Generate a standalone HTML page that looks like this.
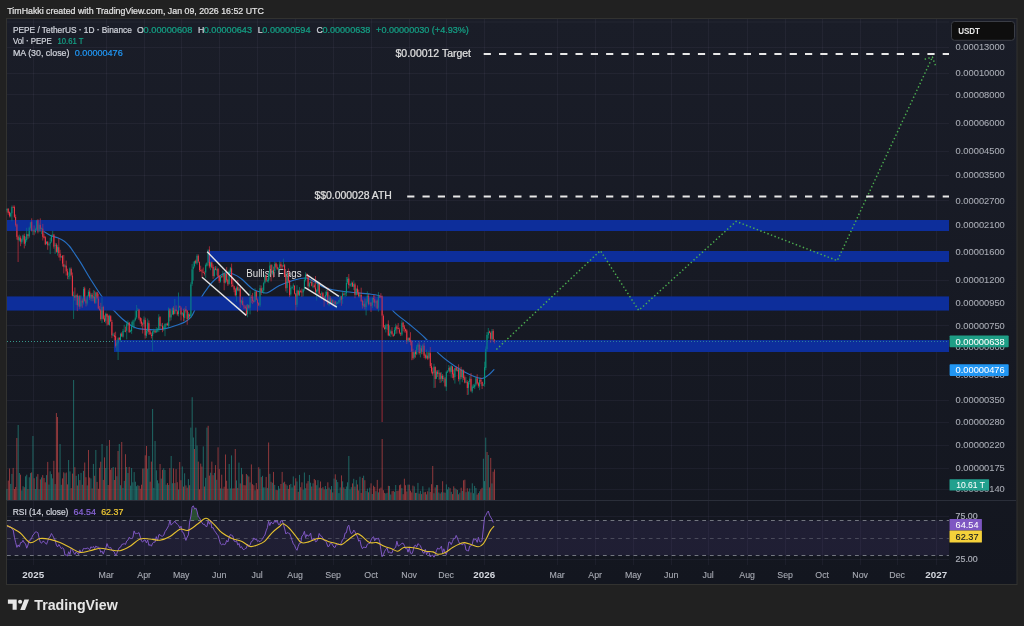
<!DOCTYPE html>
<html><head><meta charset="utf-8"><title>PEPE / TetherUS chart</title>
<style>
html,body{margin:0;padding:0;background:#212121;width:1024px;height:626px;overflow:hidden}
svg{position:absolute;left:0;top:0;display:block}
svg text{font-family:'Liberation Sans', Arial, sans-serif}
</style></head><body>
<svg width="1024" height="626" viewBox="0 0 1024 626" shape-rendering="auto">
<rect x="0" y="0" width="1024" height="626" fill="#212121"/>
<defs><linearGradient id="bg" x1="0" y1="0" x2="0" y2="1"><stop offset="0" stop-color="#1a1d28"/><stop offset="1" stop-color="#13161f"/></linearGradient></defs>
<rect x="6.5" y="18.5" width="1010.5" height="566" fill="url(#bg)" stroke="#323230" stroke-width="1"/>
<line x1="949" y1="19" x2="949" y2="19" stroke="none"/>
<line x1="7" y1="22.0" x2="949" y2="22.0" stroke="#c8bee6" stroke-opacity="0.055" stroke-width="1"/>
<line x1="7" y1="47.5" x2="949" y2="47.5" stroke="#c8bee6" stroke-opacity="0.055" stroke-width="1"/>
<line x1="7" y1="73.5" x2="949" y2="73.5" stroke="#c8bee6" stroke-opacity="0.055" stroke-width="1"/>
<line x1="7" y1="94.5" x2="949" y2="94.5" stroke="#c8bee6" stroke-opacity="0.055" stroke-width="1"/>
<line x1="7" y1="123.5" x2="949" y2="123.5" stroke="#c8bee6" stroke-opacity="0.055" stroke-width="1"/>
<line x1="7" y1="151.5" x2="949" y2="151.5" stroke="#c8bee6" stroke-opacity="0.055" stroke-width="1"/>
<line x1="7" y1="175.5" x2="949" y2="175.5" stroke="#c8bee6" stroke-opacity="0.055" stroke-width="1"/>
<line x1="7" y1="200.5" x2="949" y2="200.5" stroke="#c8bee6" stroke-opacity="0.055" stroke-width="1"/>
<line x1="7" y1="225.5" x2="949" y2="225.5" stroke="#c8bee6" stroke-opacity="0.055" stroke-width="1"/>
<line x1="7" y1="252.5" x2="949" y2="252.5" stroke="#c8bee6" stroke-opacity="0.055" stroke-width="1"/>
<line x1="7" y1="280.5" x2="949" y2="280.5" stroke="#c8bee6" stroke-opacity="0.055" stroke-width="1"/>
<line x1="7" y1="302.5" x2="949" y2="302.5" stroke="#c8bee6" stroke-opacity="0.055" stroke-width="1"/>
<line x1="7" y1="325.5" x2="949" y2="325.5" stroke="#c8bee6" stroke-opacity="0.055" stroke-width="1"/>
<line x1="7" y1="347.5" x2="949" y2="347.5" stroke="#c8bee6" stroke-opacity="0.055" stroke-width="1"/>
<line x1="7" y1="375.5" x2="949" y2="375.5" stroke="#c8bee6" stroke-opacity="0.055" stroke-width="1"/>
<line x1="7" y1="400.5" x2="949" y2="400.5" stroke="#c8bee6" stroke-opacity="0.055" stroke-width="1"/>
<line x1="7" y1="422.5" x2="949" y2="422.5" stroke="#c8bee6" stroke-opacity="0.055" stroke-width="1"/>
<line x1="7" y1="445.5" x2="949" y2="445.5" stroke="#c8bee6" stroke-opacity="0.055" stroke-width="1"/>
<line x1="7" y1="468.5" x2="949" y2="468.5" stroke="#c8bee6" stroke-opacity="0.055" stroke-width="1"/>
<line x1="7" y1="489.5" x2="949" y2="489.5" stroke="#c8bee6" stroke-opacity="0.055" stroke-width="1"/>
<line x1="7" y1="516.5" x2="949" y2="516.5" stroke="#c8bee6" stroke-opacity="0.055" stroke-width="1"/>
<line x1="7" y1="559.5" x2="949" y2="559.5" stroke="#c8bee6" stroke-opacity="0.055" stroke-width="1"/>
<line x1="33.5" y1="19" x2="33.5" y2="565" stroke="#c8bee6" stroke-opacity="0.055" stroke-width="1"/>
<line x1="106.5" y1="19" x2="106.5" y2="565" stroke="#c8bee6" stroke-opacity="0.055" stroke-width="1"/>
<line x1="144.5" y1="19" x2="144.5" y2="565" stroke="#c8bee6" stroke-opacity="0.055" stroke-width="1"/>
<line x1="181.5" y1="19" x2="181.5" y2="565" stroke="#c8bee6" stroke-opacity="0.055" stroke-width="1"/>
<line x1="219.5" y1="19" x2="219.5" y2="565" stroke="#c8bee6" stroke-opacity="0.055" stroke-width="1"/>
<line x1="257.5" y1="19" x2="257.5" y2="565" stroke="#c8bee6" stroke-opacity="0.055" stroke-width="1"/>
<line x1="295.5" y1="19" x2="295.5" y2="565" stroke="#c8bee6" stroke-opacity="0.055" stroke-width="1"/>
<line x1="333.5" y1="19" x2="333.5" y2="565" stroke="#c8bee6" stroke-opacity="0.055" stroke-width="1"/>
<line x1="371.5" y1="19" x2="371.5" y2="565" stroke="#c8bee6" stroke-opacity="0.055" stroke-width="1"/>
<line x1="409.5" y1="19" x2="409.5" y2="565" stroke="#c8bee6" stroke-opacity="0.055" stroke-width="1"/>
<line x1="446.5" y1="19" x2="446.5" y2="565" stroke="#c8bee6" stroke-opacity="0.055" stroke-width="1"/>
<line x1="484.5" y1="19" x2="484.5" y2="565" stroke="#c8bee6" stroke-opacity="0.055" stroke-width="1"/>
<line x1="557.5" y1="19" x2="557.5" y2="565" stroke="#c8bee6" stroke-opacity="0.055" stroke-width="1"/>
<line x1="595.5" y1="19" x2="595.5" y2="565" stroke="#c8bee6" stroke-opacity="0.055" stroke-width="1"/>
<line x1="633.5" y1="19" x2="633.5" y2="565" stroke="#c8bee6" stroke-opacity="0.055" stroke-width="1"/>
<line x1="671.5" y1="19" x2="671.5" y2="565" stroke="#c8bee6" stroke-opacity="0.055" stroke-width="1"/>
<line x1="708.5" y1="19" x2="708.5" y2="565" stroke="#c8bee6" stroke-opacity="0.055" stroke-width="1"/>
<line x1="747.5" y1="19" x2="747.5" y2="565" stroke="#c8bee6" stroke-opacity="0.055" stroke-width="1"/>
<line x1="785.5" y1="19" x2="785.5" y2="565" stroke="#c8bee6" stroke-opacity="0.055" stroke-width="1"/>
<line x1="822.5" y1="19" x2="822.5" y2="565" stroke="#c8bee6" stroke-opacity="0.055" stroke-width="1"/>
<line x1="860.5" y1="19" x2="860.5" y2="565" stroke="#c8bee6" stroke-opacity="0.055" stroke-width="1"/>
<line x1="897.5" y1="19" x2="897.5" y2="565" stroke="#c8bee6" stroke-opacity="0.055" stroke-width="1"/>
<line x1="936.5" y1="19" x2="936.5" y2="565" stroke="#c8bee6" stroke-opacity="0.055" stroke-width="1"/>
<line x1="7" y1="500.5" x2="1016" y2="500.5" stroke="#2a2e39" stroke-width="1"/>
<path fill="none" stroke="#2670c4" stroke-width="1.15" d="M43.60,231.40 C44.82,232.13 48.57,234.73 50.90,235.80 C53.23,236.87 55.37,236.90 57.60,237.80 C59.83,238.70 62.35,239.83 64.30,241.20 C66.25,242.57 67.93,244.47 69.30,246.00 C70.67,247.53 70.58,247.58 72.50,250.40 C74.42,253.22 77.87,258.22 80.80,262.90 C83.73,267.58 86.63,272.97 90.10,278.50 C93.57,284.03 97.62,290.73 101.60,296.10 C105.58,301.47 110.53,306.88 114.00,310.70 C117.47,314.52 119.62,316.58 122.40,319.00 C125.18,321.42 128.28,323.67 130.70,325.20 C133.12,326.73 134.45,327.50 136.90,328.20 C139.35,328.90 142.25,329.13 145.40,329.40 C148.55,329.67 152.33,329.97 155.80,329.80 C159.27,329.63 162.73,329.17 166.20,328.40 C169.67,327.63 173.48,326.25 176.60,325.20 C179.72,324.15 182.48,323.47 184.90,322.10 C187.32,320.73 189.37,319.18 191.10,317.00 C192.83,314.82 193.57,312.32 195.30,309.00 C197.03,305.68 199.42,300.63 201.50,297.10 C203.58,293.57 205.55,290.73 207.80,287.80 C210.05,284.87 212.00,282.00 215.00,279.50 C218.00,277.00 222.80,273.72 225.80,272.80 C228.80,271.88 230.47,273.05 233.00,274.00 C235.53,274.95 237.73,276.00 241.00,278.50 C244.27,281.00 249.43,286.78 252.60,289.00 C255.77,291.22 257.52,291.18 260.00,291.80 C262.48,292.42 264.33,293.70 267.50,292.70 C270.67,291.70 274.53,287.92 279.00,285.80 C283.47,283.68 289.83,281.30 294.30,280.00 C298.77,278.70 302.35,277.67 305.80,278.00 C309.25,278.33 311.80,280.38 315.00,282.00 C318.20,283.62 320.17,286.12 325.00,287.70 C329.83,289.28 336.33,290.42 344.00,291.50 C351.67,292.58 364.60,293.23 371.00,294.20 C377.40,295.17 378.57,294.37 382.40,297.30 C386.23,300.23 389.57,307.35 394.00,311.80 C398.43,316.25 403.90,319.72 409.00,324.00 C414.10,328.28 419.43,332.38 424.60,337.50 C429.77,342.62 434.93,349.92 440.00,354.70 C445.07,359.48 449.90,362.82 455.00,366.20 C460.10,369.58 466.10,372.95 470.60,375.00 C475.10,377.05 478.82,378.67 482.00,378.50 C485.18,378.33 487.65,375.53 489.70,374.00 C491.75,372.47 493.53,370.08 494.30,369.30"/>
<rect x="7" y="220" width="942" height="11" fill="#0d2e9c"/>
<rect x="208" y="251" width="741" height="11" fill="#0d2e9c"/>
<rect x="7" y="296.5" width="942" height="14" fill="#0d2e9c"/>
<rect x="114" y="340" width="835" height="12" fill="#0d2e9c"/>
<rect x="6.5" y="488.9" width="0.9" height="11.1" fill="rgba(38,166,154,0.62)"/>
<rect x="7.8" y="480.6" width="0.9" height="19.4" fill="rgba(239,83,80,0.62)"/>
<rect x="9" y="468.5" width="0.9" height="31.5" fill="rgba(239,83,80,0.62)"/>
<rect x="10.3" y="483.9" width="0.9" height="16.1" fill="rgba(38,166,154,0.62)"/>
<rect x="11.5" y="473.9" width="0.9" height="26.1" fill="rgba(38,166,154,0.62)"/>
<rect x="12.7" y="467.9" width="0.9" height="32.1" fill="rgba(239,83,80,0.62)"/>
<rect x="14" y="489" width="0.9" height="11" fill="rgba(239,83,80,0.62)"/>
<rect x="15.2" y="487" width="0.9" height="13" fill="rgba(239,83,80,0.62)"/>
<rect x="16.4" y="438" width="0.9" height="62" fill="rgba(239,83,80,0.62)"/>
<rect x="17.7" y="425" width="0.9" height="75" fill="rgba(38,166,154,0.62)"/>
<rect x="18.9" y="473" width="0.9" height="27" fill="rgba(38,166,154,0.62)"/>
<rect x="20.1" y="474.7" width="0.9" height="25.3" fill="rgba(239,83,80,0.62)"/>
<rect x="21.4" y="490.4" width="0.9" height="9.6" fill="rgba(38,166,154,0.62)"/>
<rect x="22.6" y="486.2" width="0.9" height="13.8" fill="rgba(38,166,154,0.62)"/>
<rect x="23.8" y="487.2" width="0.9" height="12.8" fill="rgba(239,83,80,0.62)"/>
<rect x="25.1" y="476.3" width="0.9" height="23.7" fill="rgba(38,166,154,0.62)"/>
<rect x="26.3" y="474.7" width="0.9" height="25.3" fill="rgba(38,166,154,0.62)"/>
<rect x="27.5" y="489.1" width="0.9" height="10.9" fill="rgba(239,83,80,0.62)"/>
<rect x="28.8" y="477.3" width="0.9" height="22.7" fill="rgba(38,166,154,0.62)"/>
<rect x="30" y="473.1" width="0.9" height="26.9" fill="rgba(38,166,154,0.62)"/>
<rect x="31.2" y="472.4" width="0.9" height="27.6" fill="rgba(239,83,80,0.62)"/>
<rect x="32.5" y="436" width="0.9" height="64" fill="rgba(38,166,154,0.62)"/>
<rect x="33.7" y="478.2" width="0.9" height="21.8" fill="rgba(239,83,80,0.62)"/>
<rect x="34.9" y="489" width="0.9" height="11" fill="rgba(38,166,154,0.62)"/>
<rect x="36.2" y="476.6" width="0.9" height="23.4" fill="rgba(38,166,154,0.62)"/>
<rect x="37.4" y="474.1" width="0.9" height="25.9" fill="rgba(239,83,80,0.62)"/>
<rect x="38.6" y="489.3" width="0.9" height="10.7" fill="rgba(38,166,154,0.62)"/>
<rect x="39.9" y="479.4" width="0.9" height="20.6" fill="rgba(239,83,80,0.62)"/>
<rect x="41.1" y="477.4" width="0.9" height="22.6" fill="rgba(38,166,154,0.62)"/>
<rect x="42.3" y="475.1" width="0.9" height="24.9" fill="rgba(239,83,80,0.62)"/>
<rect x="43.6" y="478" width="0.9" height="22" fill="rgba(239,83,80,0.62)"/>
<rect x="44.8" y="482.3" width="0.9" height="17.7" fill="rgba(239,83,80,0.62)"/>
<rect x="46" y="475.1" width="0.9" height="24.9" fill="rgba(38,166,154,0.62)"/>
<rect x="47.3" y="461.9" width="0.9" height="38.1" fill="rgba(239,83,80,0.62)"/>
<rect x="48.5" y="484.6" width="0.9" height="15.4" fill="rgba(38,166,154,0.62)"/>
<rect x="49.7" y="471.3" width="0.9" height="28.7" fill="rgba(38,166,154,0.62)"/>
<rect x="51" y="474.1" width="0.9" height="25.9" fill="rgba(38,166,154,0.62)"/>
<rect x="52.2" y="478.4" width="0.9" height="21.6" fill="rgba(38,166,154,0.62)"/>
<rect x="53.4" y="460.8" width="0.9" height="39.2" fill="rgba(239,83,80,0.62)"/>
<rect x="54.7" y="484.1" width="0.9" height="15.9" fill="rgba(38,166,154,0.62)"/>
<rect x="55.9" y="413" width="0.9" height="87" fill="rgba(239,83,80,0.62)"/>
<rect x="57.1" y="417" width="0.9" height="83" fill="rgba(239,83,80,0.62)"/>
<rect x="58.4" y="472.4" width="0.9" height="27.6" fill="rgba(239,83,80,0.62)"/>
<rect x="59.6" y="444" width="0.9" height="56" fill="rgba(38,166,154,0.62)"/>
<rect x="60.8" y="484.8" width="0.9" height="15.2" fill="rgba(38,166,154,0.62)"/>
<rect x="62.1" y="478.4" width="0.9" height="21.6" fill="rgba(239,83,80,0.62)"/>
<rect x="63.3" y="472.3" width="0.9" height="27.7" fill="rgba(239,83,80,0.62)"/>
<rect x="64.5" y="473.3" width="0.9" height="26.7" fill="rgba(38,166,154,0.62)"/>
<rect x="65.8" y="472.5" width="0.9" height="27.5" fill="rgba(239,83,80,0.62)"/>
<rect x="67" y="484.4" width="0.9" height="15.6" fill="rgba(239,83,80,0.62)"/>
<rect x="68.2" y="460" width="0.9" height="40" fill="rgba(38,166,154,0.62)"/>
<rect x="69.5" y="471.4" width="0.9" height="28.6" fill="rgba(38,166,154,0.62)"/>
<rect x="70.7" y="488.1" width="0.9" height="11.9" fill="rgba(239,83,80,0.62)"/>
<rect x="72" y="473.6" width="0.9" height="26.4" fill="rgba(239,83,80,0.62)"/>
<rect x="73.2" y="380" width="0.9" height="120" fill="rgba(38,166,154,0.62)"/>
<rect x="74.4" y="467.2" width="0.9" height="32.8" fill="rgba(239,83,80,0.62)"/>
<rect x="75.7" y="475.8" width="0.9" height="24.2" fill="rgba(38,166,154,0.62)"/>
<rect x="76.9" y="485.5" width="0.9" height="14.5" fill="rgba(239,83,80,0.62)"/>
<rect x="78.1" y="474.2" width="0.9" height="25.8" fill="rgba(38,166,154,0.62)"/>
<rect x="79.4" y="480.1" width="0.9" height="19.9" fill="rgba(239,83,80,0.62)"/>
<rect x="80.6" y="472.9" width="0.9" height="27.1" fill="rgba(38,166,154,0.62)"/>
<rect x="81.8" y="484.8" width="0.9" height="15.2" fill="rgba(239,83,80,0.62)"/>
<rect x="83.1" y="470.9" width="0.9" height="29.1" fill="rgba(38,166,154,0.62)"/>
<rect x="84.3" y="462.5" width="0.9" height="37.5" fill="rgba(239,83,80,0.62)"/>
<rect x="85.5" y="477.2" width="0.9" height="22.8" fill="rgba(239,83,80,0.62)"/>
<rect x="86.8" y="485.4" width="0.9" height="14.6" fill="rgba(38,166,154,0.62)"/>
<rect x="88" y="450" width="0.9" height="50" fill="rgba(239,83,80,0.62)"/>
<rect x="89.2" y="477.5" width="0.9" height="22.5" fill="rgba(239,83,80,0.62)"/>
<rect x="90.5" y="478.4" width="0.9" height="21.6" fill="rgba(38,166,154,0.62)"/>
<rect x="91.7" y="488.4" width="0.9" height="11.6" fill="rgba(239,83,80,0.62)"/>
<rect x="92.9" y="463.9" width="0.9" height="36.1" fill="rgba(38,166,154,0.62)"/>
<rect x="94.2" y="475.8" width="0.9" height="24.2" fill="rgba(239,83,80,0.62)"/>
<rect x="95.4" y="450" width="0.9" height="50" fill="rgba(38,166,154,0.62)"/>
<rect x="96.6" y="481.9" width="0.9" height="18.1" fill="rgba(239,83,80,0.62)"/>
<rect x="97.9" y="488.8" width="0.9" height="11.2" fill="rgba(239,83,80,0.62)"/>
<rect x="99.1" y="467.8" width="0.9" height="32.2" fill="rgba(239,83,80,0.62)"/>
<rect x="100.3" y="461.7" width="0.9" height="38.3" fill="rgba(239,83,80,0.62)"/>
<rect x="101.6" y="444" width="0.9" height="56" fill="rgba(38,166,154,0.62)"/>
<rect x="102.8" y="479.9" width="0.9" height="20.1" fill="rgba(239,83,80,0.62)"/>
<rect x="104" y="457.4" width="0.9" height="42.6" fill="rgba(239,83,80,0.62)"/>
<rect x="105.3" y="468" width="0.9" height="32" fill="rgba(38,166,154,0.62)"/>
<rect x="106.5" y="446" width="0.9" height="54" fill="rgba(38,166,154,0.62)"/>
<rect x="107.7" y="485" width="0.9" height="15" fill="rgba(239,83,80,0.62)"/>
<rect x="109" y="440" width="0.9" height="60" fill="rgba(239,83,80,0.62)"/>
<rect x="110.2" y="469.7" width="0.9" height="30.3" fill="rgba(239,83,80,0.62)"/>
<rect x="111.4" y="468" width="0.9" height="32" fill="rgba(239,83,80,0.62)"/>
<rect x="112.7" y="467" width="0.9" height="33" fill="rgba(38,166,154,0.62)"/>
<rect x="113.9" y="480" width="0.9" height="20" fill="rgba(239,83,80,0.62)"/>
<rect x="115.1" y="467.5" width="0.9" height="32.5" fill="rgba(239,83,80,0.62)"/>
<rect x="116.4" y="476.2" width="0.9" height="23.8" fill="rgba(38,166,154,0.62)"/>
<rect x="117.6" y="451" width="0.9" height="49" fill="rgba(239,83,80,0.62)"/>
<rect x="118.8" y="444" width="0.9" height="56" fill="rgba(38,166,154,0.62)"/>
<rect x="120.1" y="485.2" width="0.9" height="14.8" fill="rgba(38,166,154,0.62)"/>
<rect x="121.3" y="442" width="0.9" height="58" fill="rgba(239,83,80,0.62)"/>
<rect x="122.5" y="487.9" width="0.9" height="12.1" fill="rgba(38,166,154,0.62)"/>
<rect x="123.8" y="480.9" width="0.9" height="19.1" fill="rgba(38,166,154,0.62)"/>
<rect x="125" y="454.2" width="0.9" height="45.8" fill="rgba(239,83,80,0.62)"/>
<rect x="126.2" y="467" width="0.9" height="33" fill="rgba(38,166,154,0.62)"/>
<rect x="127.5" y="473" width="0.9" height="27" fill="rgba(38,166,154,0.62)"/>
<rect x="128.7" y="466.9" width="0.9" height="33.1" fill="rgba(239,83,80,0.62)"/>
<rect x="130" y="485.6" width="0.9" height="14.4" fill="rgba(38,166,154,0.62)"/>
<rect x="131.2" y="468" width="0.9" height="32" fill="rgba(38,166,154,0.62)"/>
<rect x="132.4" y="482.3" width="0.9" height="17.7" fill="rgba(38,166,154,0.62)"/>
<rect x="133.7" y="472.1" width="0.9" height="27.9" fill="rgba(38,166,154,0.62)"/>
<rect x="134.9" y="481.7" width="0.9" height="18.3" fill="rgba(38,166,154,0.62)"/>
<rect x="136.1" y="486.2" width="0.9" height="13.8" fill="rgba(38,166,154,0.62)"/>
<rect x="137.4" y="485.2" width="0.9" height="14.8" fill="rgba(38,166,154,0.62)"/>
<rect x="138.6" y="485.8" width="0.9" height="14.2" fill="rgba(239,83,80,0.62)"/>
<rect x="139.8" y="488.7" width="0.9" height="11.3" fill="rgba(239,83,80,0.62)"/>
<rect x="141.1" y="484.7" width="0.9" height="15.3" fill="rgba(239,83,80,0.62)"/>
<rect x="142.3" y="468.6" width="0.9" height="31.4" fill="rgba(239,83,80,0.62)"/>
<rect x="143.5" y="468.5" width="0.9" height="31.5" fill="rgba(38,166,154,0.62)"/>
<rect x="144.8" y="455.3" width="0.9" height="44.7" fill="rgba(239,83,80,0.62)"/>
<rect x="146" y="446" width="0.9" height="54" fill="rgba(239,83,80,0.62)"/>
<rect x="147.2" y="468.7" width="0.9" height="31.3" fill="rgba(38,166,154,0.62)"/>
<rect x="148.5" y="456" width="0.9" height="44" fill="rgba(38,166,154,0.62)"/>
<rect x="149.7" y="481.7" width="0.9" height="18.3" fill="rgba(239,83,80,0.62)"/>
<rect x="150.9" y="461.6" width="0.9" height="38.4" fill="rgba(239,83,80,0.62)"/>
<rect x="152.2" y="409" width="0.9" height="91" fill="rgba(38,166,154,0.62)"/>
<rect x="153.4" y="487.9" width="0.9" height="12.1" fill="rgba(38,166,154,0.62)"/>
<rect x="154.6" y="441" width="0.9" height="59" fill="rgba(38,166,154,0.62)"/>
<rect x="155.9" y="470.3" width="0.9" height="29.7" fill="rgba(38,166,154,0.62)"/>
<rect x="157.1" y="480.3" width="0.9" height="19.7" fill="rgba(38,166,154,0.62)"/>
<rect x="158.3" y="483.3" width="0.9" height="16.7" fill="rgba(38,166,154,0.62)"/>
<rect x="159.6" y="464" width="0.9" height="36" fill="rgba(239,83,80,0.62)"/>
<rect x="160.8" y="478.6" width="0.9" height="21.4" fill="rgba(38,166,154,0.62)"/>
<rect x="162" y="469.8" width="0.9" height="30.2" fill="rgba(239,83,80,0.62)"/>
<rect x="163.3" y="468.2" width="0.9" height="31.8" fill="rgba(38,166,154,0.62)"/>
<rect x="164.5" y="470" width="0.9" height="30" fill="rgba(38,166,154,0.62)"/>
<rect x="165.7" y="484.7" width="0.9" height="15.3" fill="rgba(38,166,154,0.62)"/>
<rect x="167" y="483.1" width="0.9" height="16.9" fill="rgba(239,83,80,0.62)"/>
<rect x="168.2" y="485" width="0.9" height="15" fill="rgba(38,166,154,0.62)"/>
<rect x="169.4" y="468.1" width="0.9" height="31.9" fill="rgba(239,83,80,0.62)"/>
<rect x="170.7" y="456" width="0.9" height="44" fill="rgba(38,166,154,0.62)"/>
<rect x="171.9" y="483.2" width="0.9" height="16.8" fill="rgba(38,166,154,0.62)"/>
<rect x="173.1" y="468.4" width="0.9" height="31.6" fill="rgba(239,83,80,0.62)"/>
<rect x="174.4" y="483.1" width="0.9" height="16.9" fill="rgba(38,166,154,0.62)"/>
<rect x="175.6" y="469.1" width="0.9" height="30.9" fill="rgba(239,83,80,0.62)"/>
<rect x="176.8" y="482.2" width="0.9" height="17.8" fill="rgba(239,83,80,0.62)"/>
<rect x="178.1" y="489.4" width="0.9" height="10.6" fill="rgba(38,166,154,0.62)"/>
<rect x="179.3" y="462" width="0.9" height="38" fill="rgba(239,83,80,0.62)"/>
<rect x="180.5" y="480.2" width="0.9" height="19.8" fill="rgba(239,83,80,0.62)"/>
<rect x="181.8" y="466.5" width="0.9" height="33.5" fill="rgba(38,166,154,0.62)"/>
<rect x="183" y="486.6" width="0.9" height="13.4" fill="rgba(239,83,80,0.62)"/>
<rect x="184.2" y="473.3" width="0.9" height="26.7" fill="rgba(38,166,154,0.62)"/>
<rect x="185.5" y="485.4" width="0.9" height="14.6" fill="rgba(239,83,80,0.62)"/>
<rect x="186.7" y="487.7" width="0.9" height="12.3" fill="rgba(239,83,80,0.62)"/>
<rect x="187.9" y="479.1" width="0.9" height="20.9" fill="rgba(38,166,154,0.62)"/>
<rect x="189.2" y="485.2" width="0.9" height="14.8" fill="rgba(239,83,80,0.62)"/>
<rect x="190.4" y="427.6" width="0.9" height="72.4" fill="rgba(38,166,154,0.62)"/>
<rect x="191.7" y="397.2" width="0.9" height="102.8" fill="rgba(38,166,154,0.62)"/>
<rect x="192.9" y="437.5" width="0.9" height="62.5" fill="rgba(38,166,154,0.62)"/>
<rect x="194.1" y="449" width="0.9" height="51" fill="rgba(239,83,80,0.62)"/>
<rect x="195.4" y="427.6" width="0.9" height="72.4" fill="rgba(38,166,154,0.62)"/>
<rect x="196.6" y="445.5" width="0.9" height="54.5" fill="rgba(38,166,154,0.62)"/>
<rect x="197.8" y="461.6" width="0.9" height="38.4" fill="rgba(239,83,80,0.62)"/>
<rect x="199.1" y="489.3" width="0.9" height="10.7" fill="rgba(239,83,80,0.62)"/>
<rect x="200.3" y="463.6" width="0.9" height="36.4" fill="rgba(239,83,80,0.62)"/>
<rect x="201.5" y="466.6" width="0.9" height="33.4" fill="rgba(239,83,80,0.62)"/>
<rect x="202.8" y="446.4" width="0.9" height="53.6" fill="rgba(38,166,154,0.62)"/>
<rect x="204" y="486.5" width="0.9" height="13.5" fill="rgba(239,83,80,0.62)"/>
<rect x="205.2" y="477.8" width="0.9" height="22.2" fill="rgba(38,166,154,0.62)"/>
<rect x="206.5" y="427.6" width="0.9" height="72.4" fill="rgba(38,166,154,0.62)"/>
<rect x="207.7" y="425.8" width="0.9" height="74.2" fill="rgba(239,83,80,0.62)"/>
<rect x="208.9" y="475.6" width="0.9" height="24.4" fill="rgba(239,83,80,0.62)"/>
<rect x="210.2" y="472.7" width="0.9" height="27.3" fill="rgba(38,166,154,0.62)"/>
<rect x="211.4" y="461.6" width="0.9" height="38.4" fill="rgba(239,83,80,0.62)"/>
<rect x="212.6" y="475.2" width="0.9" height="24.8" fill="rgba(239,83,80,0.62)"/>
<rect x="213.9" y="472.9" width="0.9" height="27.1" fill="rgba(38,166,154,0.62)"/>
<rect x="215.1" y="465.1" width="0.9" height="34.9" fill="rgba(239,83,80,0.62)"/>
<rect x="216.3" y="479.8" width="0.9" height="20.2" fill="rgba(38,166,154,0.62)"/>
<rect x="217.6" y="447.3" width="0.9" height="52.7" fill="rgba(239,83,80,0.62)"/>
<rect x="218.8" y="469.1" width="0.9" height="30.9" fill="rgba(239,83,80,0.62)"/>
<rect x="220" y="488.4" width="0.9" height="11.6" fill="rgba(38,166,154,0.62)"/>
<rect x="221.3" y="474.7" width="0.9" height="25.3" fill="rgba(239,83,80,0.62)"/>
<rect x="222.5" y="488.6" width="0.9" height="11.4" fill="rgba(38,166,154,0.62)"/>
<rect x="223.7" y="486.7" width="0.9" height="13.3" fill="rgba(239,83,80,0.62)"/>
<rect x="225" y="454.5" width="0.9" height="45.5" fill="rgba(239,83,80,0.62)"/>
<rect x="226.2" y="480.7" width="0.9" height="19.3" fill="rgba(239,83,80,0.62)"/>
<rect x="227.4" y="488.7" width="0.9" height="11.3" fill="rgba(239,83,80,0.62)"/>
<rect x="228.7" y="464" width="0.9" height="36" fill="rgba(38,166,154,0.62)"/>
<rect x="229.9" y="488.4" width="0.9" height="11.6" fill="rgba(38,166,154,0.62)"/>
<rect x="231.1" y="455.4" width="0.9" height="44.6" fill="rgba(38,166,154,0.62)"/>
<rect x="232.4" y="488.5" width="0.9" height="11.5" fill="rgba(239,83,80,0.62)"/>
<rect x="233.6" y="488.3" width="0.9" height="11.7" fill="rgba(239,83,80,0.62)"/>
<rect x="234.8" y="449" width="0.9" height="51" fill="rgba(239,83,80,0.62)"/>
<rect x="236.1" y="480.4" width="0.9" height="19.6" fill="rgba(38,166,154,0.62)"/>
<rect x="237.3" y="487.9" width="0.9" height="12.1" fill="rgba(239,83,80,0.62)"/>
<rect x="238.5" y="462.6" width="0.9" height="37.4" fill="rgba(38,166,154,0.62)"/>
<rect x="239.8" y="483.4" width="0.9" height="16.6" fill="rgba(239,83,80,0.62)"/>
<rect x="241" y="467.9" width="0.9" height="32.1" fill="rgba(38,166,154,0.62)"/>
<rect x="242.2" y="474.3" width="0.9" height="25.7" fill="rgba(239,83,80,0.62)"/>
<rect x="243.5" y="485.1" width="0.9" height="14.9" fill="rgba(239,83,80,0.62)"/>
<rect x="244.7" y="485.3" width="0.9" height="14.7" fill="rgba(239,83,80,0.62)"/>
<rect x="245.9" y="474" width="0.9" height="26" fill="rgba(239,83,80,0.62)"/>
<rect x="247.2" y="475.3" width="0.9" height="24.7" fill="rgba(38,166,154,0.62)"/>
<rect x="248.4" y="476.5" width="0.9" height="23.5" fill="rgba(239,83,80,0.62)"/>
<rect x="249.6" y="482.4" width="0.9" height="17.6" fill="rgba(38,166,154,0.62)"/>
<rect x="250.9" y="464.4" width="0.9" height="35.6" fill="rgba(239,83,80,0.62)"/>
<rect x="252.1" y="484.2" width="0.9" height="15.8" fill="rgba(239,83,80,0.62)"/>
<rect x="253.4" y="485.2" width="0.9" height="14.8" fill="rgba(239,83,80,0.62)"/>
<rect x="254.6" y="490.3" width="0.9" height="9.7" fill="rgba(38,166,154,0.62)"/>
<rect x="255.8" y="483" width="0.9" height="17" fill="rgba(239,83,80,0.62)"/>
<rect x="257.1" y="489.2" width="0.9" height="10.8" fill="rgba(239,83,80,0.62)"/>
<rect x="258.3" y="467.2" width="0.9" height="32.8" fill="rgba(239,83,80,0.62)"/>
<rect x="259.5" y="468.9" width="0.9" height="31.1" fill="rgba(38,166,154,0.62)"/>
<rect x="260.8" y="477.1" width="0.9" height="22.9" fill="rgba(239,83,80,0.62)"/>
<rect x="262" y="475.8" width="0.9" height="24.2" fill="rgba(38,166,154,0.62)"/>
<rect x="263.2" y="487.4" width="0.9" height="12.6" fill="rgba(38,166,154,0.62)"/>
<rect x="264.5" y="487.4" width="0.9" height="12.6" fill="rgba(38,166,154,0.62)"/>
<rect x="265.7" y="476.9" width="0.9" height="23.1" fill="rgba(239,83,80,0.62)"/>
<rect x="266.9" y="487.9" width="0.9" height="12.1" fill="rgba(38,166,154,0.62)"/>
<rect x="268.2" y="442.5" width="0.9" height="57.5" fill="rgba(239,83,80,0.62)"/>
<rect x="269.4" y="473.8" width="0.9" height="26.2" fill="rgba(38,166,154,0.62)"/>
<rect x="270.6" y="481.8" width="0.9" height="18.2" fill="rgba(239,83,80,0.62)"/>
<rect x="271.9" y="482.7" width="0.9" height="17.3" fill="rgba(38,166,154,0.62)"/>
<rect x="273.1" y="471.9" width="0.9" height="28.1" fill="rgba(239,83,80,0.62)"/>
<rect x="274.3" y="484.9" width="0.9" height="15.1" fill="rgba(38,166,154,0.62)"/>
<rect x="275.6" y="489.9" width="0.9" height="10.1" fill="rgba(239,83,80,0.62)"/>
<rect x="276.8" y="490.2" width="0.9" height="9.8" fill="rgba(239,83,80,0.62)"/>
<rect x="278" y="486" width="0.9" height="14" fill="rgba(38,166,154,0.62)"/>
<rect x="279.3" y="488.6" width="0.9" height="11.4" fill="rgba(38,166,154,0.62)"/>
<rect x="280.5" y="484" width="0.9" height="16" fill="rgba(239,83,80,0.62)"/>
<rect x="281.7" y="471.9" width="0.9" height="28.1" fill="rgba(239,83,80,0.62)"/>
<rect x="283" y="482.6" width="0.9" height="17.4" fill="rgba(38,166,154,0.62)"/>
<rect x="284.2" y="481.7" width="0.9" height="18.3" fill="rgba(239,83,80,0.62)"/>
<rect x="285.4" y="484.2" width="0.9" height="15.8" fill="rgba(239,83,80,0.62)"/>
<rect x="286.7" y="485.5" width="0.9" height="14.5" fill="rgba(38,166,154,0.62)"/>
<rect x="287.9" y="488.9" width="0.9" height="11.1" fill="rgba(239,83,80,0.62)"/>
<rect x="289.1" y="484.9" width="0.9" height="15.1" fill="rgba(239,83,80,0.62)"/>
<rect x="290.4" y="483.9" width="0.9" height="16.1" fill="rgba(38,166,154,0.62)"/>
<rect x="291.6" y="487.4" width="0.9" height="12.6" fill="rgba(38,166,154,0.62)"/>
<rect x="292.8" y="476.4" width="0.9" height="23.6" fill="rgba(38,166,154,0.62)"/>
<rect x="294.1" y="485.5" width="0.9" height="14.5" fill="rgba(239,83,80,0.62)"/>
<rect x="295.3" y="478.3" width="0.9" height="21.7" fill="rgba(239,83,80,0.62)"/>
<rect x="296.5" y="481.5" width="0.9" height="18.5" fill="rgba(38,166,154,0.62)"/>
<rect x="297.8" y="491.8" width="0.9" height="8.2" fill="rgba(239,83,80,0.62)"/>
<rect x="299" y="474.9" width="0.9" height="25.1" fill="rgba(38,166,154,0.62)"/>
<rect x="300.2" y="487.2" width="0.9" height="12.8" fill="rgba(239,83,80,0.62)"/>
<rect x="301.5" y="482.3" width="0.9" height="17.7" fill="rgba(239,83,80,0.62)"/>
<rect x="302.7" y="489.7" width="0.9" height="10.3" fill="rgba(38,166,154,0.62)"/>
<rect x="303.9" y="472.5" width="0.9" height="27.5" fill="rgba(38,166,154,0.62)"/>
<rect x="305.2" y="488.2" width="0.9" height="11.8" fill="rgba(38,166,154,0.62)"/>
<rect x="306.4" y="483.4" width="0.9" height="16.6" fill="rgba(239,83,80,0.62)"/>
<rect x="307.6" y="481.1" width="0.9" height="18.9" fill="rgba(239,83,80,0.62)"/>
<rect x="308.9" y="475" width="0.9" height="25" fill="rgba(38,166,154,0.62)"/>
<rect x="310.1" y="482.7" width="0.9" height="17.3" fill="rgba(38,166,154,0.62)"/>
<rect x="311.3" y="486.5" width="0.9" height="13.5" fill="rgba(239,83,80,0.62)"/>
<rect x="312.6" y="483.3" width="0.9" height="16.7" fill="rgba(38,166,154,0.62)"/>
<rect x="313.8" y="479" width="0.9" height="21" fill="rgba(239,83,80,0.62)"/>
<rect x="315.1" y="480.2" width="0.9" height="19.8" fill="rgba(239,83,80,0.62)"/>
<rect x="316.3" y="485.2" width="0.9" height="14.8" fill="rgba(38,166,154,0.62)"/>
<rect x="317.5" y="480.1" width="0.9" height="19.9" fill="rgba(38,166,154,0.62)"/>
<rect x="318.8" y="487.6" width="0.9" height="12.4" fill="rgba(239,83,80,0.62)"/>
<rect x="320" y="481.5" width="0.9" height="18.5" fill="rgba(239,83,80,0.62)"/>
<rect x="321.2" y="488.2" width="0.9" height="11.8" fill="rgba(38,166,154,0.62)"/>
<rect x="322.5" y="487.2" width="0.9" height="12.8" fill="rgba(239,83,80,0.62)"/>
<rect x="323.7" y="489.4" width="0.9" height="10.6" fill="rgba(239,83,80,0.62)"/>
<rect x="324.9" y="486" width="0.9" height="14" fill="rgba(38,166,154,0.62)"/>
<rect x="326.2" y="489.1" width="0.9" height="10.9" fill="rgba(38,166,154,0.62)"/>
<rect x="327.4" y="482.3" width="0.9" height="17.7" fill="rgba(239,83,80,0.62)"/>
<rect x="328.6" y="487.6" width="0.9" height="12.4" fill="rgba(38,166,154,0.62)"/>
<rect x="329.9" y="489.5" width="0.9" height="10.5" fill="rgba(239,83,80,0.62)"/>
<rect x="331.1" y="486" width="0.9" height="14" fill="rgba(38,166,154,0.62)"/>
<rect x="332.3" y="492.4" width="0.9" height="7.6" fill="rgba(239,83,80,0.62)"/>
<rect x="333.6" y="478.6" width="0.9" height="21.4" fill="rgba(38,166,154,0.62)"/>
<rect x="334.8" y="474.3" width="0.9" height="25.7" fill="rgba(239,83,80,0.62)"/>
<rect x="336" y="479.8" width="0.9" height="20.2" fill="rgba(38,166,154,0.62)"/>
<rect x="337.3" y="482.1" width="0.9" height="17.9" fill="rgba(38,166,154,0.62)"/>
<rect x="338.5" y="493.1" width="0.9" height="6.9" fill="rgba(38,166,154,0.62)"/>
<rect x="339.7" y="487.4" width="0.9" height="12.6" fill="rgba(38,166,154,0.62)"/>
<rect x="341" y="475.4" width="0.9" height="24.6" fill="rgba(239,83,80,0.62)"/>
<rect x="342.2" y="481.3" width="0.9" height="18.7" fill="rgba(38,166,154,0.62)"/>
<rect x="343.4" y="487.4" width="0.9" height="12.6" fill="rgba(239,83,80,0.62)"/>
<rect x="344.7" y="489" width="0.9" height="11" fill="rgba(38,166,154,0.62)"/>
<rect x="345.9" y="486.5" width="0.9" height="13.5" fill="rgba(38,166,154,0.62)"/>
<rect x="347.1" y="482.3" width="0.9" height="17.7" fill="rgba(38,166,154,0.62)"/>
<rect x="348.4" y="456" width="0.9" height="44" fill="rgba(38,166,154,0.62)"/>
<rect x="349.6" y="489.4" width="0.9" height="10.6" fill="rgba(38,166,154,0.62)"/>
<rect x="350.8" y="487.2" width="0.9" height="12.8" fill="rgba(38,166,154,0.62)"/>
<rect x="352.1" y="483.4" width="0.9" height="16.6" fill="rgba(239,83,80,0.62)"/>
<rect x="353.3" y="478.8" width="0.9" height="21.2" fill="rgba(38,166,154,0.62)"/>
<rect x="354.5" y="486.6" width="0.9" height="13.4" fill="rgba(239,83,80,0.62)"/>
<rect x="355.8" y="480.1" width="0.9" height="19.9" fill="rgba(38,166,154,0.62)"/>
<rect x="357" y="484.5" width="0.9" height="15.5" fill="rgba(239,83,80,0.62)"/>
<rect x="358.2" y="490.4" width="0.9" height="9.6" fill="rgba(239,83,80,0.62)"/>
<rect x="359.5" y="476.7" width="0.9" height="23.3" fill="rgba(38,166,154,0.62)"/>
<rect x="360.7" y="492.9" width="0.9" height="7.1" fill="rgba(239,83,80,0.62)"/>
<rect x="361.9" y="477.9" width="0.9" height="22.1" fill="rgba(239,83,80,0.62)"/>
<rect x="363.2" y="475.7" width="0.9" height="24.3" fill="rgba(38,166,154,0.62)"/>
<rect x="364.4" y="480.2" width="0.9" height="19.8" fill="rgba(239,83,80,0.62)"/>
<rect x="365.6" y="491" width="0.9" height="9" fill="rgba(38,166,154,0.62)"/>
<rect x="366.9" y="488.6" width="0.9" height="11.4" fill="rgba(38,166,154,0.62)"/>
<rect x="368.1" y="492.3" width="0.9" height="7.7" fill="rgba(239,83,80,0.62)"/>
<rect x="369.3" y="487.6" width="0.9" height="12.4" fill="rgba(38,166,154,0.62)"/>
<rect x="370.6" y="483.3" width="0.9" height="16.7" fill="rgba(239,83,80,0.62)"/>
<rect x="371.8" y="494" width="0.9" height="6" fill="rgba(38,166,154,0.62)"/>
<rect x="373" y="485.7" width="0.9" height="14.3" fill="rgba(239,83,80,0.62)"/>
<rect x="374.3" y="486.9" width="0.9" height="13.1" fill="rgba(239,83,80,0.62)"/>
<rect x="375.5" y="491.2" width="0.9" height="8.8" fill="rgba(38,166,154,0.62)"/>
<rect x="376.8" y="479.9" width="0.9" height="20.1" fill="rgba(239,83,80,0.62)"/>
<rect x="378" y="492.4" width="0.9" height="7.6" fill="rgba(38,166,154,0.62)"/>
<rect x="379.2" y="488.6" width="0.9" height="11.4" fill="rgba(239,83,80,0.62)"/>
<rect x="380.5" y="487.6" width="0.9" height="12.4" fill="rgba(239,83,80,0.62)"/>
<rect x="381.7" y="439" width="0.9" height="61" fill="rgba(239,83,80,0.62)"/>
<rect x="382.9" y="490.2" width="0.9" height="9.8" fill="rgba(239,83,80,0.62)"/>
<rect x="384.2" y="492.9" width="0.9" height="7.1" fill="rgba(239,83,80,0.62)"/>
<rect x="385.4" y="493.5" width="0.9" height="6.5" fill="rgba(38,166,154,0.62)"/>
<rect x="386.6" y="492.8" width="0.9" height="7.2" fill="rgba(38,166,154,0.62)"/>
<rect x="387.9" y="485.8" width="0.9" height="14.2" fill="rgba(239,83,80,0.62)"/>
<rect x="389.1" y="486" width="0.9" height="14" fill="rgba(38,166,154,0.62)"/>
<rect x="390.3" y="494.5" width="0.9" height="5.5" fill="rgba(38,166,154,0.62)"/>
<rect x="391.6" y="491.2" width="0.9" height="8.8" fill="rgba(239,83,80,0.62)"/>
<rect x="392.8" y="490.9" width="0.9" height="9.1" fill="rgba(239,83,80,0.62)"/>
<rect x="394" y="491.8" width="0.9" height="8.2" fill="rgba(38,166,154,0.62)"/>
<rect x="395.3" y="485" width="0.9" height="15" fill="rgba(38,166,154,0.62)"/>
<rect x="396.5" y="491" width="0.9" height="9" fill="rgba(239,83,80,0.62)"/>
<rect x="397.7" y="490.6" width="0.9" height="9.4" fill="rgba(239,83,80,0.62)"/>
<rect x="399" y="485.2" width="0.9" height="14.8" fill="rgba(239,83,80,0.62)"/>
<rect x="400.2" y="484.5" width="0.9" height="15.5" fill="rgba(239,83,80,0.62)"/>
<rect x="401.4" y="488.1" width="0.9" height="11.9" fill="rgba(38,166,154,0.62)"/>
<rect x="402.7" y="494.2" width="0.9" height="5.8" fill="rgba(239,83,80,0.62)"/>
<rect x="403.9" y="478.7" width="0.9" height="21.3" fill="rgba(239,83,80,0.62)"/>
<rect x="405.1" y="485.2" width="0.9" height="14.8" fill="rgba(239,83,80,0.62)"/>
<rect x="406.4" y="491.5" width="0.9" height="8.5" fill="rgba(239,83,80,0.62)"/>
<rect x="407.6" y="484.6" width="0.9" height="15.4" fill="rgba(38,166,154,0.62)"/>
<rect x="408.8" y="484.7" width="0.9" height="15.3" fill="rgba(239,83,80,0.62)"/>
<rect x="410.1" y="490.6" width="0.9" height="9.4" fill="rgba(239,83,80,0.62)"/>
<rect x="411.3" y="492.4" width="0.9" height="7.6" fill="rgba(239,83,80,0.62)"/>
<rect x="412.5" y="485.6" width="0.9" height="14.4" fill="rgba(239,83,80,0.62)"/>
<rect x="413.8" y="486.4" width="0.9" height="13.6" fill="rgba(38,166,154,0.62)"/>
<rect x="415" y="492.9" width="0.9" height="7.1" fill="rgba(239,83,80,0.62)"/>
<rect x="416.2" y="492.8" width="0.9" height="7.2" fill="rgba(38,166,154,0.62)"/>
<rect x="417.5" y="482.9" width="0.9" height="17.1" fill="rgba(38,166,154,0.62)"/>
<rect x="418.7" y="493.6" width="0.9" height="6.4" fill="rgba(239,83,80,0.62)"/>
<rect x="419.9" y="490.8" width="0.9" height="9.2" fill="rgba(38,166,154,0.62)"/>
<rect x="421.2" y="494.1" width="0.9" height="5.9" fill="rgba(239,83,80,0.62)"/>
<rect x="422.4" y="486.2" width="0.9" height="13.8" fill="rgba(38,166,154,0.62)"/>
<rect x="423.6" y="492.3" width="0.9" height="7.7" fill="rgba(239,83,80,0.62)"/>
<rect x="424.9" y="491.9" width="0.9" height="8.1" fill="rgba(239,83,80,0.62)"/>
<rect x="426.1" y="494.4" width="0.9" height="5.6" fill="rgba(38,166,154,0.62)"/>
<rect x="427.3" y="491.3" width="0.9" height="8.7" fill="rgba(239,83,80,0.62)"/>
<rect x="428.6" y="487.5" width="0.9" height="12.5" fill="rgba(38,166,154,0.62)"/>
<rect x="429.8" y="492" width="0.9" height="8" fill="rgba(239,83,80,0.62)"/>
<rect x="431" y="484.2" width="0.9" height="15.8" fill="rgba(239,83,80,0.62)"/>
<rect x="432.3" y="466" width="0.9" height="34" fill="rgba(239,83,80,0.62)"/>
<rect x="433.5" y="493.2" width="0.9" height="6.8" fill="rgba(38,166,154,0.62)"/>
<rect x="434.7" y="487.4" width="0.9" height="12.6" fill="rgba(239,83,80,0.62)"/>
<rect x="436" y="485" width="0.9" height="15" fill="rgba(38,166,154,0.62)"/>
<rect x="437.2" y="485.1" width="0.9" height="14.9" fill="rgba(239,83,80,0.62)"/>
<rect x="438.4" y="492.5" width="0.9" height="7.5" fill="rgba(38,166,154,0.62)"/>
<rect x="439.7" y="493.5" width="0.9" height="6.5" fill="rgba(239,83,80,0.62)"/>
<rect x="440.9" y="492.2" width="0.9" height="7.8" fill="rgba(38,166,154,0.62)"/>
<rect x="442.2" y="481.2" width="0.9" height="18.8" fill="rgba(239,83,80,0.62)"/>
<rect x="443.4" y="492.4" width="0.9" height="7.6" fill="rgba(38,166,154,0.62)"/>
<rect x="444.6" y="492.7" width="0.9" height="7.3" fill="rgba(239,83,80,0.62)"/>
<rect x="445.9" y="484.4" width="0.9" height="15.6" fill="rgba(38,166,154,0.62)"/>
<rect x="447.1" y="489.4" width="0.9" height="10.6" fill="rgba(38,166,154,0.62)"/>
<rect x="448.3" y="487.1" width="0.9" height="12.9" fill="rgba(38,166,154,0.62)"/>
<rect x="449.6" y="488.2" width="0.9" height="11.8" fill="rgba(239,83,80,0.62)"/>
<rect x="450.8" y="491.8" width="0.9" height="8.2" fill="rgba(38,166,154,0.62)"/>
<rect x="452" y="494.1" width="0.9" height="5.9" fill="rgba(239,83,80,0.62)"/>
<rect x="453.3" y="486.3" width="0.9" height="13.7" fill="rgba(239,83,80,0.62)"/>
<rect x="454.5" y="488.2" width="0.9" height="11.8" fill="rgba(38,166,154,0.62)"/>
<rect x="455.7" y="489.3" width="0.9" height="10.7" fill="rgba(239,83,80,0.62)"/>
<rect x="457" y="489.9" width="0.9" height="10.1" fill="rgba(38,166,154,0.62)"/>
<rect x="458.2" y="494.3" width="0.9" height="5.7" fill="rgba(239,83,80,0.62)"/>
<rect x="459.4" y="492.7" width="0.9" height="7.3" fill="rgba(38,166,154,0.62)"/>
<rect x="460.7" y="487.7" width="0.9" height="12.3" fill="rgba(239,83,80,0.62)"/>
<rect x="461.9" y="490.9" width="0.9" height="9.1" fill="rgba(38,166,154,0.62)"/>
<rect x="463.1" y="480.3" width="0.9" height="19.7" fill="rgba(239,83,80,0.62)"/>
<rect x="464.4" y="479.7" width="0.9" height="20.3" fill="rgba(239,83,80,0.62)"/>
<rect x="465.6" y="492.2" width="0.9" height="7.8" fill="rgba(38,166,154,0.62)"/>
<rect x="466.8" y="488.2" width="0.9" height="11.8" fill="rgba(239,83,80,0.62)"/>
<rect x="468.1" y="491.5" width="0.9" height="8.5" fill="rgba(38,166,154,0.62)"/>
<rect x="469.3" y="488.4" width="0.9" height="11.6" fill="rgba(38,166,154,0.62)"/>
<rect x="470.5" y="492.5" width="0.9" height="7.5" fill="rgba(239,83,80,0.62)"/>
<rect x="471.8" y="483.3" width="0.9" height="16.7" fill="rgba(38,166,154,0.62)"/>
<rect x="473" y="493.2" width="0.9" height="6.8" fill="rgba(38,166,154,0.62)"/>
<rect x="474.2" y="485.9" width="0.9" height="14.1" fill="rgba(38,166,154,0.62)"/>
<rect x="475.5" y="488" width="0.9" height="12" fill="rgba(38,166,154,0.62)"/>
<rect x="476.7" y="494.6" width="0.9" height="5.4" fill="rgba(239,83,80,0.62)"/>
<rect x="477.9" y="493.1" width="0.9" height="6.9" fill="rgba(239,83,80,0.62)"/>
<rect x="479.2" y="491.3" width="0.9" height="8.7" fill="rgba(38,166,154,0.62)"/>
<rect x="480.4" y="489.3" width="0.9" height="10.7" fill="rgba(239,83,80,0.62)"/>
<rect x="481.6" y="487.8" width="0.9" height="12.2" fill="rgba(239,83,80,0.62)"/>
<rect x="482.9" y="458.7" width="0.9" height="41.3" fill="rgba(38,166,154,0.62)"/>
<rect x="484.1" y="481.1" width="0.9" height="18.9" fill="rgba(38,166,154,0.62)"/>
<rect x="485.3" y="437.6" width="0.9" height="62.4" fill="rgba(38,166,154,0.62)"/>
<rect x="486.6" y="452" width="0.9" height="48" fill="rgba(239,83,80,0.62)"/>
<rect x="487.8" y="455" width="0.9" height="45" fill="rgba(38,166,154,0.62)"/>
<rect x="489" y="487.4" width="0.9" height="12.6" fill="rgba(239,83,80,0.62)"/>
<rect x="490.3" y="457.9" width="0.9" height="42.1" fill="rgba(239,83,80,0.62)"/>
<rect x="491.5" y="483.4" width="0.9" height="16.6" fill="rgba(38,166,154,0.62)"/>
<rect x="492.7" y="471.7" width="0.9" height="28.3" fill="rgba(239,83,80,0.62)"/>
<rect x="494" y="469.4" width="0.9" height="30.6" fill="rgba(239,83,80,0.62)"/>
<line x1="7" y1="341.5" x2="949" y2="341.5" stroke="#3fb5a3" stroke-opacity="0.8" stroke-width="1" stroke-dasharray="1 2"/>
<text x="246.2" y="277.1" font-size="10.6" fill="#e0e0e0" textLength="55.4" lengthAdjust="spacingAndGlyphs">Bullish Flags</text>
<line x1="7" y1="208.3" x2="7" y2="212.3" stroke="#089981" stroke-width="0.6"/>
<rect x="6.5" y="209" width="1" height="1.3" fill="#089981"/>
<line x1="8.2" y1="208.1" x2="8.2" y2="214.8" stroke="#f23645" stroke-width="0.6"/>
<rect x="7.7" y="208.8" width="1" height="4.1" fill="#f23645"/>
<line x1="9.5" y1="211.5" x2="9.5" y2="217.4" stroke="#f23645" stroke-width="0.6"/>
<rect x="9" y="212.2" width="1" height="3.6" fill="#f23645"/>
<line x1="10.7" y1="212.4" x2="10.7" y2="217.3" stroke="#089981" stroke-width="0.6"/>
<rect x="10.2" y="213.2" width="1" height="3.1" fill="#089981"/>
<line x1="11.9" y1="205.5" x2="11.9" y2="221.3" stroke="#089981" stroke-width="0.6"/>
<rect x="11.4" y="207" width="1" height="6.3" fill="#089981"/>
<line x1="13.2" y1="205.5" x2="13.2" y2="207.5" stroke="#f23645" stroke-width="0.6"/>
<rect x="12.7" y="207" width="1" height="0.8" fill="#f23645"/>
<line x1="14.4" y1="205.5" x2="14.4" y2="217.8" stroke="#f23645" stroke-width="0.6"/>
<rect x="13.9" y="207" width="1" height="9.9" fill="#f23645"/>
<line x1="15.6" y1="214.5" x2="15.6" y2="226.7" stroke="#f23645" stroke-width="0.6"/>
<rect x="15.1" y="217" width="1" height="8.2" fill="#f23645"/>
<line x1="16.9" y1="223.6" x2="16.9" y2="239.6" stroke="#f23645" stroke-width="0.6"/>
<rect x="16.4" y="224.5" width="1" height="12.3" fill="#f23645"/>
<line x1="18.1" y1="235.5" x2="18.1" y2="262" stroke="#f23645" stroke-width="0.6"/>
<rect x="17.6" y="236.7" width="1" height="3.2" fill="#f23645"/>
<line x1="19.3" y1="234.6" x2="19.3" y2="241.5" stroke="#089981" stroke-width="0.6"/>
<rect x="18.8" y="237.5" width="1" height="2.9" fill="#089981"/>
<line x1="20.6" y1="235.7" x2="20.6" y2="246.2" stroke="#f23645" stroke-width="0.6"/>
<rect x="20.1" y="237.7" width="1" height="3.9" fill="#f23645"/>
<line x1="21.8" y1="238.5" x2="21.8" y2="243.9" stroke="#089981" stroke-width="0.6"/>
<rect x="21.3" y="239.2" width="1" height="3.1" fill="#089981"/>
<line x1="23" y1="234.6" x2="23" y2="241.5" stroke="#089981" stroke-width="0.6"/>
<rect x="22.5" y="235.4" width="1" height="4.2" fill="#089981"/>
<line x1="24.3" y1="233.7" x2="24.3" y2="248.4" stroke="#f23645" stroke-width="0.6"/>
<rect x="23.8" y="235.9" width="1" height="7.9" fill="#f23645"/>
<line x1="25.5" y1="236.6" x2="25.5" y2="245.8" stroke="#089981" stroke-width="0.6"/>
<rect x="25" y="239.4" width="1" height="4" fill="#089981"/>
<line x1="26.7" y1="227.8" x2="26.7" y2="241.8" stroke="#089981" stroke-width="0.6"/>
<rect x="26.2" y="234.1" width="1" height="5.9" fill="#089981"/>
<line x1="28" y1="233.8" x2="28" y2="238.8" stroke="#f23645" stroke-width="0.6"/>
<rect x="27.5" y="234.4" width="1" height="1.5" fill="#f23645"/>
<line x1="29.2" y1="226.5" x2="29.2" y2="237.9" stroke="#089981" stroke-width="0.6"/>
<rect x="28.7" y="227.7" width="1" height="8.7" fill="#089981"/>
<line x1="30.4" y1="221.9" x2="30.4" y2="229.7" stroke="#089981" stroke-width="0.6"/>
<rect x="29.9" y="222.4" width="1" height="5.5" fill="#089981"/>
<line x1="31.7" y1="218.3" x2="31.7" y2="231.5" stroke="#f23645" stroke-width="0.6"/>
<rect x="31.2" y="221.7" width="1" height="9" fill="#f23645"/>
<line x1="32.9" y1="228.6" x2="32.9" y2="234.9" stroke="#089981" stroke-width="0.6"/>
<rect x="32.4" y="230.1" width="1" height="0.8" fill="#089981"/>
<line x1="34.1" y1="225.4" x2="34.1" y2="235.3" stroke="#f23645" stroke-width="0.6"/>
<rect x="33.6" y="230.2" width="1" height="1.2" fill="#f23645"/>
<line x1="35.4" y1="227.7" x2="35.4" y2="233.5" stroke="#089981" stroke-width="0.6"/>
<rect x="34.9" y="228.9" width="1" height="3.1" fill="#089981"/>
<line x1="36.6" y1="219.9" x2="36.6" y2="230.5" stroke="#089981" stroke-width="0.6"/>
<rect x="36.1" y="220.7" width="1" height="8.9" fill="#089981"/>
<line x1="37.9" y1="219.2" x2="37.9" y2="233.4" stroke="#f23645" stroke-width="0.6"/>
<rect x="37.4" y="220.2" width="1" height="11.3" fill="#f23645"/>
<line x1="39.1" y1="223.3" x2="39.1" y2="232.2" stroke="#089981" stroke-width="0.6"/>
<rect x="38.6" y="224.9" width="1" height="5.9" fill="#089981"/>
<line x1="40.3" y1="218.4" x2="40.3" y2="231.6" stroke="#f23645" stroke-width="0.6"/>
<rect x="39.8" y="225" width="1" height="3.8" fill="#f23645"/>
<line x1="41.6" y1="227.5" x2="41.6" y2="234.1" stroke="#089981" stroke-width="0.6"/>
<rect x="41.1" y="228.1" width="1" height="0.9" fill="#089981"/>
<line x1="42.8" y1="223.9" x2="42.8" y2="240.5" stroke="#f23645" stroke-width="0.6"/>
<rect x="42.3" y="228.6" width="1" height="8.2" fill="#f23645"/>
<line x1="44" y1="233.7" x2="44" y2="238.5" stroke="#f23645" stroke-width="0.6"/>
<rect x="43.5" y="236.2" width="1" height="1.7" fill="#f23645"/>
<line x1="45.3" y1="236.2" x2="45.3" y2="245.2" stroke="#f23645" stroke-width="0.6"/>
<rect x="44.8" y="237.2" width="1" height="7.2" fill="#f23645"/>
<line x1="46.5" y1="241.1" x2="46.5" y2="244.3" stroke="#089981" stroke-width="0.6"/>
<rect x="46" y="242" width="1" height="1.6" fill="#089981"/>
<line x1="47.7" y1="241.2" x2="47.7" y2="249.8" stroke="#f23645" stroke-width="0.6"/>
<rect x="47.2" y="241.7" width="1" height="3.5" fill="#f23645"/>
<line x1="49" y1="242.9" x2="49" y2="246.2" stroke="#089981" stroke-width="0.6"/>
<rect x="48.5" y="244.2" width="1" height="0.8" fill="#089981"/>
<line x1="50.2" y1="237.8" x2="50.2" y2="254.1" stroke="#089981" stroke-width="0.6"/>
<rect x="49.7" y="242.1" width="1" height="1.5" fill="#089981"/>
<line x1="51.4" y1="234.7" x2="51.4" y2="242.8" stroke="#089981" stroke-width="0.6"/>
<rect x="50.9" y="235.4" width="1" height="6.1" fill="#089981"/>
<line x1="52.7" y1="230.7" x2="52.7" y2="235.9" stroke="#089981" stroke-width="0.6"/>
<rect x="52.2" y="234.7" width="1" height="0.8" fill="#089981"/>
<line x1="53.9" y1="233.9" x2="53.9" y2="248.7" stroke="#f23645" stroke-width="0.6"/>
<rect x="53.4" y="234.7" width="1" height="11.9" fill="#f23645"/>
<line x1="55.1" y1="242.9" x2="55.1" y2="254" stroke="#089981" stroke-width="0.6"/>
<rect x="54.6" y="244.9" width="1" height="1" fill="#089981"/>
<line x1="56.4" y1="243.1" x2="56.4" y2="252.7" stroke="#f23645" stroke-width="0.6"/>
<rect x="55.9" y="244.5" width="1" height="7.3" fill="#f23645"/>
<line x1="57.6" y1="244.8" x2="57.6" y2="255.7" stroke="#089981" stroke-width="0.6"/>
<rect x="57.1" y="246.8" width="1" height="5.4" fill="#089981"/>
<line x1="58.8" y1="238.4" x2="58.8" y2="257.5" stroke="#f23645" stroke-width="0.6"/>
<rect x="58.3" y="247.3" width="1" height="5.9" fill="#f23645"/>
<line x1="60.1" y1="249.8" x2="60.1" y2="260.7" stroke="#f23645" stroke-width="0.6"/>
<rect x="59.6" y="253.7" width="1" height="3.8" fill="#f23645"/>
<line x1="61.3" y1="255.9" x2="61.3" y2="257.8" stroke="#089981" stroke-width="0.6"/>
<rect x="60.8" y="256.4" width="1" height="0.8" fill="#089981"/>
<line x1="62.5" y1="255" x2="62.5" y2="266.5" stroke="#f23645" stroke-width="0.6"/>
<rect x="62" y="256.1" width="1" height="7.5" fill="#f23645"/>
<line x1="63.8" y1="255" x2="63.8" y2="273.4" stroke="#f23645" stroke-width="0.6"/>
<rect x="63.3" y="264.3" width="1" height="2.4" fill="#f23645"/>
<line x1="65" y1="264.5" x2="65" y2="267.5" stroke="#089981" stroke-width="0.6"/>
<rect x="64.5" y="265.5" width="1" height="1" fill="#089981"/>
<line x1="66.2" y1="260.6" x2="66.2" y2="275.5" stroke="#f23645" stroke-width="0.6"/>
<rect x="65.7" y="265.7" width="1" height="5.7" fill="#f23645"/>
<line x1="67.5" y1="268.7" x2="67.5" y2="279.2" stroke="#f23645" stroke-width="0.6"/>
<rect x="67" y="271.3" width="1" height="4.2" fill="#f23645"/>
<line x1="68.7" y1="272.4" x2="68.7" y2="279.4" stroke="#089981" stroke-width="0.6"/>
<rect x="68.2" y="275.9" width="1" height="0.8" fill="#089981"/>
<line x1="69.9" y1="267.4" x2="69.9" y2="279.5" stroke="#089981" stroke-width="0.6"/>
<rect x="69.4" y="268.3" width="1" height="7.6" fill="#089981"/>
<line x1="71.2" y1="267.5" x2="71.2" y2="276.4" stroke="#f23645" stroke-width="0.6"/>
<rect x="70.7" y="269" width="1" height="5.8" fill="#f23645"/>
<line x1="72.4" y1="272.5" x2="72.4" y2="296.5" stroke="#f23645" stroke-width="0.6"/>
<rect x="71.9" y="275.6" width="1" height="20.1" fill="#f23645"/>
<line x1="73.6" y1="291.5" x2="73.6" y2="319" stroke="#089981" stroke-width="0.6"/>
<rect x="73.1" y="295.3" width="1" height="1" fill="#089981"/>
<line x1="74.9" y1="287.5" x2="74.9" y2="300.6" stroke="#f23645" stroke-width="0.6"/>
<rect x="74.4" y="295.8" width="1" height="2.1" fill="#f23645"/>
<line x1="76.1" y1="294.7" x2="76.1" y2="304.9" stroke="#089981" stroke-width="0.6"/>
<rect x="75.6" y="295.3" width="1" height="2.1" fill="#089981"/>
<line x1="77.3" y1="293.5" x2="77.3" y2="311.1" stroke="#f23645" stroke-width="0.6"/>
<rect x="76.8" y="295.5" width="1" height="9.7" fill="#f23645"/>
<line x1="78.6" y1="295.6" x2="78.6" y2="306.8" stroke="#089981" stroke-width="0.6"/>
<rect x="78.1" y="296.6" width="1" height="9.1" fill="#089981"/>
<line x1="79.8" y1="295.2" x2="79.8" y2="308.9" stroke="#f23645" stroke-width="0.6"/>
<rect x="79.3" y="296.3" width="1" height="10.4" fill="#f23645"/>
<line x1="81" y1="295.4" x2="81" y2="307.4" stroke="#089981" stroke-width="0.6"/>
<rect x="80.5" y="300.7" width="1" height="5.4" fill="#089981"/>
<line x1="82.3" y1="298.4" x2="82.3" y2="307.8" stroke="#f23645" stroke-width="0.6"/>
<rect x="81.8" y="300.6" width="1" height="2" fill="#f23645"/>
<line x1="83.5" y1="287" x2="83.5" y2="304.6" stroke="#089981" stroke-width="0.6"/>
<rect x="83" y="289" width="1" height="13.6" fill="#089981"/>
<line x1="84.7" y1="286.6" x2="84.7" y2="301.7" stroke="#f23645" stroke-width="0.6"/>
<rect x="84.2" y="288.3" width="1" height="12.6" fill="#f23645"/>
<line x1="86" y1="298.5" x2="86" y2="306.5" stroke="#f23645" stroke-width="0.6"/>
<rect x="85.5" y="300.3" width="1" height="3.1" fill="#f23645"/>
<line x1="87.2" y1="295.2" x2="87.2" y2="305.5" stroke="#089981" stroke-width="0.6"/>
<rect x="86.7" y="296.5" width="1" height="7" fill="#089981"/>
<line x1="88.4" y1="289.7" x2="88.4" y2="297" stroke="#089981" stroke-width="0.6"/>
<rect x="87.9" y="291.8" width="1" height="4.1" fill="#089981"/>
<line x1="89.7" y1="288" x2="89.7" y2="300" stroke="#f23645" stroke-width="0.6"/>
<rect x="89.2" y="291.5" width="1" height="6.6" fill="#f23645"/>
<line x1="90.9" y1="293.1" x2="90.9" y2="301.1" stroke="#089981" stroke-width="0.6"/>
<rect x="90.4" y="294.7" width="1" height="4" fill="#089981"/>
<line x1="92.1" y1="292.8" x2="92.1" y2="301.3" stroke="#f23645" stroke-width="0.6"/>
<rect x="91.6" y="294.8" width="1" height="3.7" fill="#f23645"/>
<line x1="93.4" y1="290.1" x2="93.4" y2="301.3" stroke="#089981" stroke-width="0.6"/>
<rect x="92.9" y="296.3" width="1" height="2.1" fill="#089981"/>
<line x1="94.6" y1="290.7" x2="94.6" y2="303.7" stroke="#f23645" stroke-width="0.6"/>
<rect x="94.1" y="296.9" width="1" height="5.7" fill="#f23645"/>
<line x1="95.8" y1="291.7" x2="95.8" y2="303.9" stroke="#089981" stroke-width="0.6"/>
<rect x="95.3" y="292.5" width="1" height="10.6" fill="#089981"/>
<line x1="97.1" y1="291.8" x2="97.1" y2="299.3" stroke="#f23645" stroke-width="0.6"/>
<rect x="96.6" y="292.4" width="1" height="5.8" fill="#f23645"/>
<line x1="98.3" y1="293.7" x2="98.3" y2="309.2" stroke="#f23645" stroke-width="0.6"/>
<rect x="97.8" y="298.7" width="1" height="9.7" fill="#f23645"/>
<line x1="99.5" y1="306.1" x2="99.5" y2="310.6" stroke="#f23645" stroke-width="0.6"/>
<rect x="99" y="308.7" width="1" height="1.1" fill="#f23645"/>
<line x1="100.8" y1="302.8" x2="100.8" y2="320.6" stroke="#f23645" stroke-width="0.6"/>
<rect x="100.3" y="309.4" width="1" height="9.7" fill="#f23645"/>
<line x1="102" y1="297.3" x2="102" y2="323.1" stroke="#089981" stroke-width="0.6"/>
<rect x="101.5" y="307" width="1" height="12" fill="#089981"/>
<line x1="103.3" y1="305.7" x2="103.3" y2="319.7" stroke="#f23645" stroke-width="0.6"/>
<rect x="102.8" y="307" width="1" height="11.7" fill="#f23645"/>
<line x1="104.5" y1="315.4" x2="104.5" y2="322.1" stroke="#f23645" stroke-width="0.6"/>
<rect x="104" y="318.5" width="1" height="3.2" fill="#f23645"/>
<line x1="105.7" y1="312.6" x2="105.7" y2="323.3" stroke="#089981" stroke-width="0.6"/>
<rect x="105.2" y="313.9" width="1" height="6.9" fill="#089981"/>
<line x1="107" y1="313.3" x2="107" y2="325.5" stroke="#f23645" stroke-width="0.6"/>
<rect x="106.5" y="314" width="1" height="2.6" fill="#f23645"/>
<line x1="108.2" y1="314.8" x2="108.2" y2="325.1" stroke="#f23645" stroke-width="0.6"/>
<rect x="107.7" y="315.9" width="1" height="8.6" fill="#f23645"/>
<line x1="109.4" y1="314.6" x2="109.4" y2="325.7" stroke="#089981" stroke-width="0.6"/>
<rect x="108.9" y="315.7" width="1" height="9.3" fill="#089981"/>
<line x1="110.7" y1="315.1" x2="110.7" y2="322.1" stroke="#f23645" stroke-width="0.6"/>
<rect x="110.2" y="316.2" width="1" height="5.1" fill="#f23645"/>
<line x1="111.9" y1="319.8" x2="111.9" y2="338.2" stroke="#f23645" stroke-width="0.6"/>
<rect x="111.4" y="322" width="1" height="13.3" fill="#f23645"/>
<line x1="113.1" y1="332.8" x2="113.1" y2="336.2" stroke="#089981" stroke-width="0.6"/>
<rect x="112.6" y="334.5" width="1" height="1.1" fill="#089981"/>
<line x1="114.4" y1="332.6" x2="114.4" y2="340.6" stroke="#f23645" stroke-width="0.6"/>
<rect x="113.9" y="335.2" width="1" height="1.7" fill="#f23645"/>
<line x1="115.6" y1="331.7" x2="115.6" y2="347.6" stroke="#f23645" stroke-width="0.6"/>
<rect x="115.1" y="336.2" width="1" height="9.7" fill="#f23645"/>
<line x1="116.8" y1="341.3" x2="116.8" y2="351.3" stroke="#089981" stroke-width="0.6"/>
<rect x="116.3" y="343.4" width="1" height="2.2" fill="#089981"/>
<line x1="118.1" y1="337.3" x2="118.1" y2="360" stroke="#089981" stroke-width="0.6"/>
<rect x="117.6" y="338.4" width="1" height="5.1" fill="#089981"/>
<line x1="119.3" y1="337.2" x2="119.3" y2="340.5" stroke="#f23645" stroke-width="0.6"/>
<rect x="118.8" y="337.8" width="1" height="1.7" fill="#f23645"/>
<line x1="120.5" y1="332.8" x2="120.5" y2="341.9" stroke="#089981" stroke-width="0.6"/>
<rect x="120" y="334" width="1" height="6" fill="#089981"/>
<line x1="121.8" y1="332.2" x2="121.8" y2="336.9" stroke="#f23645" stroke-width="0.6"/>
<rect x="121.3" y="333.5" width="1" height="2.8" fill="#f23645"/>
<line x1="123" y1="328.9" x2="123" y2="337.6" stroke="#089981" stroke-width="0.6"/>
<rect x="122.5" y="331" width="1" height="5.7" fill="#089981"/>
<line x1="124.2" y1="324.8" x2="124.2" y2="331.7" stroke="#089981" stroke-width="0.6"/>
<rect x="123.7" y="330.7" width="1" height="0.8" fill="#089981"/>
<line x1="125.5" y1="326.6" x2="125.5" y2="332.3" stroke="#f23645" stroke-width="0.6"/>
<rect x="125" y="330.7" width="1" height="0.8" fill="#f23645"/>
<line x1="126.7" y1="321.4" x2="126.7" y2="339.4" stroke="#089981" stroke-width="0.6"/>
<rect x="126.2" y="324.2" width="1" height="6.6" fill="#089981"/>
<line x1="127.9" y1="320.4" x2="127.9" y2="326" stroke="#089981" stroke-width="0.6"/>
<rect x="127.4" y="322.9" width="1" height="1.6" fill="#089981"/>
<line x1="129.2" y1="322" x2="129.2" y2="332.9" stroke="#f23645" stroke-width="0.6"/>
<rect x="128.7" y="322.7" width="1" height="9.5" fill="#f23645"/>
<line x1="130.4" y1="329.7" x2="130.4" y2="332.4" stroke="#089981" stroke-width="0.6"/>
<rect x="129.9" y="330.5" width="1" height="1.2" fill="#089981"/>
<line x1="131.6" y1="321.6" x2="131.6" y2="333.8" stroke="#089981" stroke-width="0.6"/>
<rect x="131.1" y="326.2" width="1" height="4.9" fill="#089981"/>
<line x1="132.9" y1="319.8" x2="132.9" y2="326.7" stroke="#089981" stroke-width="0.6"/>
<rect x="132.4" y="321.5" width="1" height="4.3" fill="#089981"/>
<line x1="134.1" y1="319.4" x2="134.1" y2="328.5" stroke="#089981" stroke-width="0.6"/>
<rect x="133.6" y="320.5" width="1" height="0.9" fill="#089981"/>
<line x1="135.3" y1="310.4" x2="135.3" y2="321.3" stroke="#089981" stroke-width="0.6"/>
<rect x="134.8" y="317.6" width="1" height="2.5" fill="#089981"/>
<line x1="136.6" y1="305" x2="136.6" y2="318.8" stroke="#089981" stroke-width="0.6"/>
<rect x="136.1" y="310.6" width="1" height="6.8" fill="#089981"/>
<line x1="137.8" y1="307.9" x2="137.8" y2="310.6" stroke="#089981" stroke-width="0.6"/>
<rect x="137.3" y="309.8" width="1" height="0.8" fill="#089981"/>
<line x1="139" y1="308.8" x2="139" y2="319.9" stroke="#f23645" stroke-width="0.6"/>
<rect x="138.5" y="309.5" width="1" height="8.9" fill="#f23645"/>
<line x1="140.3" y1="317" x2="140.3" y2="323.7" stroke="#f23645" stroke-width="0.6"/>
<rect x="139.8" y="318" width="1" height="3.4" fill="#f23645"/>
<line x1="141.5" y1="318.2" x2="141.5" y2="326.4" stroke="#f23645" stroke-width="0.6"/>
<rect x="141" y="321.5" width="1" height="2.2" fill="#f23645"/>
<line x1="142.7" y1="322.3" x2="142.7" y2="333.5" stroke="#f23645" stroke-width="0.6"/>
<rect x="142.2" y="323.6" width="1" height="1.1" fill="#f23645"/>
<line x1="144" y1="316.4" x2="144" y2="326.7" stroke="#089981" stroke-width="0.6"/>
<rect x="143.5" y="319.5" width="1" height="4.6" fill="#089981"/>
<line x1="145.2" y1="317.6" x2="145.2" y2="338.6" stroke="#f23645" stroke-width="0.6"/>
<rect x="144.7" y="320.1" width="1" height="15.3" fill="#f23645"/>
<line x1="146.4" y1="330" x2="146.4" y2="337.9" stroke="#089981" stroke-width="0.6"/>
<rect x="145.9" y="330.8" width="1" height="5.1" fill="#089981"/>
<line x1="147.7" y1="318.5" x2="147.7" y2="333.5" stroke="#089981" stroke-width="0.6"/>
<rect x="147.2" y="322.5" width="1" height="8.7" fill="#089981"/>
<line x1="148.9" y1="320.4" x2="148.9" y2="334.8" stroke="#f23645" stroke-width="0.6"/>
<rect x="148.4" y="323.2" width="1" height="8.8" fill="#f23645"/>
<line x1="150.1" y1="330" x2="150.1" y2="334.9" stroke="#f23645" stroke-width="0.6"/>
<rect x="149.6" y="331.4" width="1" height="2.8" fill="#f23645"/>
<line x1="151.4" y1="332.6" x2="151.4" y2="338.4" stroke="#f23645" stroke-width="0.6"/>
<rect x="150.9" y="334.8" width="1" height="1.2" fill="#f23645"/>
<line x1="152.6" y1="331" x2="152.6" y2="351" stroke="#089981" stroke-width="0.6"/>
<rect x="152.1" y="331.5" width="1" height="4.4" fill="#089981"/>
<line x1="153.8" y1="328.7" x2="153.8" y2="333.9" stroke="#089981" stroke-width="0.6"/>
<rect x="153.3" y="330.6" width="1" height="1.3" fill="#089981"/>
<line x1="155.1" y1="329.9" x2="155.1" y2="333.1" stroke="#f23645" stroke-width="0.6"/>
<rect x="154.6" y="330.9" width="1" height="1.5" fill="#f23645"/>
<line x1="156.3" y1="327.2" x2="156.3" y2="333" stroke="#089981" stroke-width="0.6"/>
<rect x="155.8" y="330.4" width="1" height="1.7" fill="#089981"/>
<line x1="157.5" y1="327.9" x2="157.5" y2="332.2" stroke="#089981" stroke-width="0.6"/>
<rect x="157" y="329.4" width="1" height="1" fill="#089981"/>
<line x1="158.8" y1="314.2" x2="158.8" y2="332.1" stroke="#089981" stroke-width="0.6"/>
<rect x="158.3" y="317.6" width="1" height="12" fill="#089981"/>
<line x1="160" y1="316" x2="160" y2="329.2" stroke="#f23645" stroke-width="0.6"/>
<rect x="159.5" y="317.1" width="1" height="8.9" fill="#f23645"/>
<line x1="161.2" y1="323.3" x2="161.2" y2="326.2" stroke="#089981" stroke-width="0.6"/>
<rect x="160.8" y="325.5" width="1" height="0.8" fill="#089981"/>
<line x1="162.5" y1="322.9" x2="162.5" y2="332.2" stroke="#f23645" stroke-width="0.6"/>
<rect x="162" y="325.8" width="1" height="3.7" fill="#f23645"/>
<line x1="163.7" y1="325.5" x2="163.7" y2="330.9" stroke="#089981" stroke-width="0.6"/>
<rect x="163.2" y="327.4" width="1" height="1.7" fill="#089981"/>
<line x1="165" y1="323.1" x2="165" y2="336.2" stroke="#089981" stroke-width="0.6"/>
<rect x="164.5" y="324" width="1" height="4" fill="#089981"/>
<line x1="166.2" y1="323.2" x2="166.2" y2="326.5" stroke="#089981" stroke-width="0.6"/>
<rect x="165.7" y="323.8" width="1" height="1" fill="#089981"/>
<line x1="167.4" y1="322.5" x2="167.4" y2="326" stroke="#f23645" stroke-width="0.6"/>
<rect x="166.9" y="323.7" width="1" height="1.3" fill="#f23645"/>
<line x1="168.7" y1="307.3" x2="168.7" y2="328" stroke="#089981" stroke-width="0.6"/>
<rect x="168.2" y="308.3" width="1" height="17.5" fill="#089981"/>
<line x1="169.9" y1="308.2" x2="169.9" y2="321.3" stroke="#f23645" stroke-width="0.6"/>
<rect x="169.4" y="309" width="1" height="8.4" fill="#f23645"/>
<line x1="171.1" y1="309.6" x2="171.1" y2="320.3" stroke="#089981" stroke-width="0.6"/>
<rect x="170.6" y="314.4" width="1" height="3" fill="#089981"/>
<line x1="172.4" y1="307.4" x2="172.4" y2="314.9" stroke="#089981" stroke-width="0.6"/>
<rect x="171.9" y="307.9" width="1" height="6.5" fill="#089981"/>
<line x1="173.6" y1="306.2" x2="173.6" y2="315.3" stroke="#f23645" stroke-width="0.6"/>
<rect x="173.1" y="307.9" width="1" height="6.2" fill="#f23645"/>
<line x1="174.8" y1="299" x2="174.8" y2="314.3" stroke="#089981" stroke-width="0.6"/>
<rect x="174.3" y="309.2" width="1" height="4.6" fill="#089981"/>
<line x1="176.1" y1="305.4" x2="176.1" y2="311.6" stroke="#f23645" stroke-width="0.6"/>
<rect x="175.6" y="309.6" width="1" height="1.3" fill="#f23645"/>
<line x1="177.3" y1="310.3" x2="177.3" y2="315.7" stroke="#f23645" stroke-width="0.6"/>
<rect x="176.8" y="311.5" width="1" height="2.8" fill="#f23645"/>
<line x1="178.5" y1="292.5" x2="178.5" y2="316.4" stroke="#089981" stroke-width="0.6"/>
<rect x="178" y="306.4" width="1" height="7.7" fill="#089981"/>
<line x1="179.8" y1="305.5" x2="179.8" y2="307.9" stroke="#f23645" stroke-width="0.6"/>
<rect x="179.3" y="306.1" width="1" height="1.1" fill="#f23645"/>
<line x1="181" y1="306.5" x2="181" y2="320.5" stroke="#f23645" stroke-width="0.6"/>
<rect x="180.5" y="307.7" width="1" height="6.8" fill="#f23645"/>
<line x1="182.2" y1="311.9" x2="182.2" y2="315.9" stroke="#089981" stroke-width="0.6"/>
<rect x="181.7" y="312.8" width="1" height="1.7" fill="#089981"/>
<line x1="183.5" y1="308.7" x2="183.5" y2="321.3" stroke="#f23645" stroke-width="0.6"/>
<rect x="183" y="313.5" width="1" height="3.9" fill="#f23645"/>
<line x1="184.7" y1="307.8" x2="184.7" y2="321.2" stroke="#089981" stroke-width="0.6"/>
<rect x="184.2" y="309.8" width="1" height="8.3" fill="#089981"/>
<line x1="185.9" y1="306" x2="185.9" y2="312.6" stroke="#f23645" stroke-width="0.6"/>
<rect x="185.4" y="309.1" width="1" height="1.8" fill="#f23645"/>
<line x1="187.2" y1="310" x2="187.2" y2="324.8" stroke="#f23645" stroke-width="0.6"/>
<rect x="186.7" y="310.6" width="1" height="8.5" fill="#f23645"/>
<line x1="188.4" y1="312.1" x2="188.4" y2="319.8" stroke="#089981" stroke-width="0.6"/>
<rect x="187.9" y="313.9" width="1" height="4.6" fill="#089981"/>
<line x1="189.6" y1="313.5" x2="189.6" y2="319.1" stroke="#f23645" stroke-width="0.6"/>
<rect x="189.1" y="314.6" width="1" height="1.8" fill="#f23645"/>
<line x1="190.9" y1="282.3" x2="190.9" y2="317.6" stroke="#089981" stroke-width="0.6"/>
<rect x="190.4" y="284.4" width="1" height="31.7" fill="#089981"/>
<line x1="192.1" y1="264.1" x2="192.1" y2="285.8" stroke="#089981" stroke-width="0.6"/>
<rect x="191.6" y="269.3" width="1" height="14.6" fill="#089981"/>
<line x1="193.3" y1="261.5" x2="193.3" y2="280.7" stroke="#089981" stroke-width="0.6"/>
<rect x="192.8" y="266.7" width="1" height="2.2" fill="#089981"/>
<line x1="194.6" y1="260.7" x2="194.6" y2="267.6" stroke="#089981" stroke-width="0.6"/>
<rect x="194.1" y="261.3" width="1" height="4.9" fill="#089981"/>
<line x1="195.8" y1="259.6" x2="195.8" y2="264" stroke="#f23645" stroke-width="0.6"/>
<rect x="195.3" y="260.7" width="1" height="2.2" fill="#f23645"/>
<line x1="197" y1="254.2" x2="197" y2="264.8" stroke="#089981" stroke-width="0.6"/>
<rect x="196.5" y="255.8" width="1" height="7.5" fill="#089981"/>
<line x1="198.3" y1="254.4" x2="198.3" y2="262.8" stroke="#f23645" stroke-width="0.6"/>
<rect x="197.8" y="255.8" width="1" height="5.6" fill="#f23645"/>
<line x1="199.5" y1="261.5" x2="199.5" y2="271.9" stroke="#f23645" stroke-width="0.6"/>
<rect x="199" y="262.2" width="1" height="7.8" fill="#f23645"/>
<line x1="200.7" y1="265.7" x2="200.7" y2="271.7" stroke="#f23645" stroke-width="0.6"/>
<rect x="200.2" y="270.2" width="1" height="0.8" fill="#f23645"/>
<line x1="202" y1="268.9" x2="202" y2="278.2" stroke="#f23645" stroke-width="0.6"/>
<rect x="201.5" y="270.5" width="1" height="1" fill="#f23645"/>
<line x1="203.2" y1="267.5" x2="203.2" y2="273.1" stroke="#f23645" stroke-width="0.6"/>
<rect x="202.7" y="272.1" width="1" height="0.8" fill="#f23645"/>
<line x1="204.4" y1="271.4" x2="204.4" y2="275.6" stroke="#f23645" stroke-width="0.6"/>
<rect x="203.9" y="273.2" width="1" height="0.8" fill="#f23645"/>
<line x1="205.7" y1="263.5" x2="205.7" y2="278.2" stroke="#089981" stroke-width="0.6"/>
<rect x="205.2" y="265" width="1" height="7.5" fill="#089981"/>
<line x1="206.9" y1="262.2" x2="206.9" y2="266.5" stroke="#089981" stroke-width="0.6"/>
<rect x="206.4" y="263.2" width="1" height="2.5" fill="#089981"/>
<line x1="208.1" y1="250.5" x2="208.1" y2="265.5" stroke="#089981" stroke-width="0.6"/>
<rect x="207.6" y="249.5" width="1" height="13.2" fill="#089981"/>
<line x1="209.4" y1="246.3" x2="209.4" y2="268.3" stroke="#f23645" stroke-width="0.6"/>
<rect x="208.9" y="249.7" width="1" height="16.8" fill="#f23645"/>
<line x1="210.6" y1="261.8" x2="210.6" y2="270.2" stroke="#089981" stroke-width="0.6"/>
<rect x="210.1" y="262.4" width="1" height="4.2" fill="#089981"/>
<line x1="211.8" y1="261.4" x2="211.8" y2="268.2" stroke="#f23645" stroke-width="0.6"/>
<rect x="211.3" y="262.6" width="1" height="4.8" fill="#f23645"/>
<line x1="213.1" y1="264.5" x2="213.1" y2="278.9" stroke="#f23645" stroke-width="0.6"/>
<rect x="212.6" y="267" width="1" height="9" fill="#f23645"/>
<line x1="214.3" y1="266.6" x2="214.3" y2="277.5" stroke="#089981" stroke-width="0.6"/>
<rect x="213.8" y="268.8" width="1" height="7.2" fill="#089981"/>
<line x1="215.5" y1="266" x2="215.5" y2="270.2" stroke="#f23645" stroke-width="0.6"/>
<rect x="215" y="268.4" width="1" height="1.3" fill="#f23645"/>
<line x1="216.8" y1="266.4" x2="216.8" y2="275.3" stroke="#089981" stroke-width="0.6"/>
<rect x="216.3" y="269" width="1" height="1.5" fill="#089981"/>
<line x1="218" y1="267.9" x2="218" y2="277.3" stroke="#f23645" stroke-width="0.6"/>
<rect x="217.5" y="268.9" width="1" height="7.3" fill="#f23645"/>
<line x1="219.2" y1="275.4" x2="219.2" y2="283.1" stroke="#f23645" stroke-width="0.6"/>
<rect x="218.7" y="275.9" width="1" height="5.2" fill="#f23645"/>
<line x1="220.5" y1="275.1" x2="220.5" y2="282.6" stroke="#089981" stroke-width="0.6"/>
<rect x="220" y="276.7" width="1" height="4.8" fill="#089981"/>
<line x1="221.7" y1="275.7" x2="221.7" y2="278.1" stroke="#f23645" stroke-width="0.6"/>
<rect x="221.2" y="276.2" width="1" height="0.8" fill="#f23645"/>
<line x1="222.9" y1="270.8" x2="222.9" y2="277.6" stroke="#089981" stroke-width="0.6"/>
<rect x="222.4" y="273.6" width="1" height="3" fill="#089981"/>
<line x1="224.2" y1="272.7" x2="224.2" y2="290.3" stroke="#f23645" stroke-width="0.6"/>
<rect x="223.7" y="273.6" width="1" height="9.2" fill="#f23645"/>
<line x1="225.4" y1="270.1" x2="225.4" y2="283.5" stroke="#089981" stroke-width="0.6"/>
<rect x="224.9" y="274" width="1" height="8.5" fill="#089981"/>
<line x1="226.7" y1="267.1" x2="226.7" y2="282.3" stroke="#f23645" stroke-width="0.6"/>
<rect x="226.2" y="273.7" width="1" height="6.7" fill="#f23645"/>
<line x1="227.9" y1="278.9" x2="227.9" y2="285.9" stroke="#f23645" stroke-width="0.6"/>
<rect x="227.4" y="279.9" width="1" height="4.4" fill="#f23645"/>
<line x1="229.1" y1="269.7" x2="229.1" y2="284.7" stroke="#089981" stroke-width="0.6"/>
<rect x="228.6" y="271.2" width="1" height="12.6" fill="#089981"/>
<line x1="230.4" y1="267" x2="230.4" y2="272.5" stroke="#089981" stroke-width="0.6"/>
<rect x="229.9" y="267.8" width="1" height="4.1" fill="#089981"/>
<line x1="231.6" y1="263.6" x2="231.6" y2="287.1" stroke="#f23645" stroke-width="0.6"/>
<rect x="231.1" y="268.4" width="1" height="15.6" fill="#f23645"/>
<line x1="232.8" y1="278.9" x2="232.8" y2="287.2" stroke="#f23645" stroke-width="0.6"/>
<rect x="232.3" y="284.8" width="1" height="1.1" fill="#f23645"/>
<line x1="234.1" y1="285.7" x2="234.1" y2="292.2" stroke="#f23645" stroke-width="0.6"/>
<rect x="233.6" y="286.3" width="1" height="3.2" fill="#f23645"/>
<line x1="235.3" y1="287.9" x2="235.3" y2="296.6" stroke="#f23645" stroke-width="0.6"/>
<rect x="234.8" y="289.3" width="1" height="6" fill="#f23645"/>
<line x1="236.5" y1="286.4" x2="236.5" y2="301.7" stroke="#089981" stroke-width="0.6"/>
<rect x="236" y="287.8" width="1" height="7.2" fill="#089981"/>
<line x1="237.8" y1="280" x2="237.8" y2="291.3" stroke="#f23645" stroke-width="0.6"/>
<rect x="237.3" y="287.2" width="1" height="3.1" fill="#f23645"/>
<line x1="239" y1="287.1" x2="239" y2="291.4" stroke="#089981" stroke-width="0.6"/>
<rect x="238.5" y="288.7" width="1" height="2.1" fill="#089981"/>
<line x1="240.2" y1="287.2" x2="240.2" y2="307.8" stroke="#f23645" stroke-width="0.6"/>
<rect x="239.7" y="288.7" width="1" height="13.6" fill="#f23645"/>
<line x1="241.5" y1="299.7" x2="241.5" y2="304.5" stroke="#089981" stroke-width="0.6"/>
<rect x="241" y="300.3" width="1" height="2.7" fill="#089981"/>
<line x1="242.7" y1="297.3" x2="242.7" y2="305.5" stroke="#f23645" stroke-width="0.6"/>
<rect x="242.2" y="300.8" width="1" height="4.2" fill="#f23645"/>
<line x1="243.9" y1="304.5" x2="243.9" y2="309.1" stroke="#f23645" stroke-width="0.6"/>
<rect x="243.4" y="305.6" width="1" height="0.8" fill="#f23645"/>
<line x1="245.2" y1="305.2" x2="245.2" y2="309.2" stroke="#f23645" stroke-width="0.6"/>
<rect x="244.7" y="306.5" width="1" height="1.6" fill="#f23645"/>
<line x1="246.4" y1="304.7" x2="246.4" y2="315.6" stroke="#f23645" stroke-width="0.6"/>
<rect x="245.9" y="307.7" width="1" height="6.7" fill="#f23645"/>
<line x1="247.6" y1="304" x2="247.6" y2="317.3" stroke="#089981" stroke-width="0.6"/>
<rect x="247.1" y="304.5" width="1" height="9.5" fill="#089981"/>
<line x1="248.9" y1="304.6" x2="248.9" y2="308.8" stroke="#f23645" stroke-width="0.6"/>
<rect x="248.4" y="305.2" width="1" height="2.6" fill="#f23645"/>
<line x1="250.1" y1="290.3" x2="250.1" y2="314.4" stroke="#089981" stroke-width="0.6"/>
<rect x="249.6" y="297.1" width="1" height="10.6" fill="#089981"/>
<line x1="251.3" y1="295.1" x2="251.3" y2="302.9" stroke="#f23645" stroke-width="0.6"/>
<rect x="250.8" y="297" width="1" height="0.8" fill="#f23645"/>
<line x1="252.6" y1="292.9" x2="252.6" y2="304.1" stroke="#f23645" stroke-width="0.6"/>
<rect x="252.1" y="296.7" width="1" height="4.3" fill="#f23645"/>
<line x1="253.8" y1="299.8" x2="253.8" y2="302.8" stroke="#f23645" stroke-width="0.6"/>
<rect x="253.3" y="301.1" width="1" height="0.8" fill="#f23645"/>
<line x1="255" y1="288.3" x2="255" y2="302" stroke="#089981" stroke-width="0.6"/>
<rect x="254.5" y="291.8" width="1" height="9.5" fill="#089981"/>
<line x1="256.3" y1="290.8" x2="256.3" y2="300.2" stroke="#f23645" stroke-width="0.6"/>
<rect x="255.8" y="291.4" width="1" height="8.3" fill="#f23645"/>
<line x1="257.5" y1="298.5" x2="257.5" y2="311.7" stroke="#f23645" stroke-width="0.6"/>
<rect x="257" y="299.8" width="1" height="3.6" fill="#f23645"/>
<line x1="258.7" y1="302.3" x2="258.7" y2="306" stroke="#f23645" stroke-width="0.6"/>
<rect x="258.2" y="302.9" width="1" height="2.4" fill="#f23645"/>
<line x1="260" y1="285.1" x2="260" y2="307" stroke="#089981" stroke-width="0.6"/>
<rect x="259.5" y="288.1" width="1" height="17.3" fill="#089981"/>
<line x1="261.2" y1="285.5" x2="261.2" y2="294.9" stroke="#f23645" stroke-width="0.6"/>
<rect x="260.7" y="288.3" width="1" height="3.3" fill="#f23645"/>
<line x1="262.4" y1="287.7" x2="262.4" y2="292.9" stroke="#089981" stroke-width="0.6"/>
<rect x="261.9" y="290.4" width="1" height="1.8" fill="#089981"/>
<line x1="263.7" y1="281.7" x2="263.7" y2="293.7" stroke="#089981" stroke-width="0.6"/>
<rect x="263.2" y="283.1" width="1" height="7.4" fill="#089981"/>
<line x1="264.9" y1="274.3" x2="264.9" y2="283.7" stroke="#089981" stroke-width="0.6"/>
<rect x="264.4" y="275.4" width="1" height="7.3" fill="#089981"/>
<line x1="266.1" y1="274.2" x2="266.1" y2="282" stroke="#f23645" stroke-width="0.6"/>
<rect x="265.6" y="275.5" width="1" height="5" fill="#f23645"/>
<line x1="267.4" y1="278.2" x2="267.4" y2="282.3" stroke="#089981" stroke-width="0.6"/>
<rect x="266.9" y="280.1" width="1" height="1.2" fill="#089981"/>
<line x1="268.6" y1="273.1" x2="268.6" y2="282.6" stroke="#089981" stroke-width="0.6"/>
<rect x="268.1" y="273.8" width="1" height="7.1" fill="#089981"/>
<line x1="269.8" y1="261.5" x2="269.8" y2="279.7" stroke="#089981" stroke-width="0.6"/>
<rect x="269.3" y="265.6" width="1" height="8.7" fill="#089981"/>
<line x1="271.1" y1="264.1" x2="271.1" y2="281.4" stroke="#f23645" stroke-width="0.6"/>
<rect x="270.6" y="265" width="1" height="8.7" fill="#f23645"/>
<line x1="272.3" y1="264.7" x2="272.3" y2="275.3" stroke="#089981" stroke-width="0.6"/>
<rect x="271.8" y="270.5" width="1" height="3.3" fill="#089981"/>
<line x1="273.5" y1="266.6" x2="273.5" y2="277.7" stroke="#f23645" stroke-width="0.6"/>
<rect x="273" y="270.1" width="1" height="1.2" fill="#f23645"/>
<line x1="274.8" y1="261.7" x2="274.8" y2="273.2" stroke="#089981" stroke-width="0.6"/>
<rect x="274.3" y="264" width="1" height="6.8" fill="#089981"/>
<line x1="276" y1="262.4" x2="276" y2="267.9" stroke="#f23645" stroke-width="0.6"/>
<rect x="275.5" y="263.4" width="1" height="3.4" fill="#f23645"/>
<line x1="277.2" y1="264.3" x2="277.2" y2="270.1" stroke="#f23645" stroke-width="0.6"/>
<rect x="276.7" y="266.9" width="1" height="2.2" fill="#f23645"/>
<line x1="278.5" y1="267.4" x2="278.5" y2="270.7" stroke="#089981" stroke-width="0.6"/>
<rect x="278" y="268.3" width="1" height="1.1" fill="#089981"/>
<line x1="279.7" y1="260.7" x2="279.7" y2="269.9" stroke="#089981" stroke-width="0.6"/>
<rect x="279.2" y="264.4" width="1" height="3.4" fill="#089981"/>
<line x1="280.9" y1="262.1" x2="280.9" y2="268.9" stroke="#f23645" stroke-width="0.6"/>
<rect x="280.4" y="264.2" width="1" height="2.1" fill="#f23645"/>
<line x1="282.2" y1="264.8" x2="282.2" y2="269" stroke="#f23645" stroke-width="0.6"/>
<rect x="281.7" y="265.7" width="1" height="0.8" fill="#f23645"/>
<line x1="283.4" y1="258.6" x2="283.4" y2="267.1" stroke="#089981" stroke-width="0.6"/>
<rect x="282.9" y="265.2" width="1" height="0.8" fill="#089981"/>
<line x1="284.6" y1="263.9" x2="284.6" y2="277" stroke="#f23645" stroke-width="0.6"/>
<rect x="284.1" y="265.3" width="1" height="10.2" fill="#f23645"/>
<line x1="285.9" y1="274.3" x2="285.9" y2="291.4" stroke="#f23645" stroke-width="0.6"/>
<rect x="285.4" y="275.2" width="1" height="13.1" fill="#f23645"/>
<line x1="287.1" y1="273" x2="287.1" y2="293" stroke="#089981" stroke-width="0.6"/>
<rect x="286.6" y="273.5" width="1" height="14.4" fill="#089981"/>
<line x1="288.4" y1="268.5" x2="288.4" y2="282.8" stroke="#f23645" stroke-width="0.6"/>
<rect x="287.9" y="273.3" width="1" height="7.7" fill="#f23645"/>
<line x1="289.6" y1="280" x2="289.6" y2="297.2" stroke="#f23645" stroke-width="0.6"/>
<rect x="289.1" y="280.5" width="1" height="14.5" fill="#f23645"/>
<line x1="290.8" y1="285.3" x2="290.8" y2="295.8" stroke="#089981" stroke-width="0.6"/>
<rect x="290.3" y="287.8" width="1" height="6.6" fill="#089981"/>
<line x1="292.1" y1="286.2" x2="292.1" y2="288.9" stroke="#089981" stroke-width="0.6"/>
<rect x="291.6" y="287" width="1" height="0.8" fill="#089981"/>
<line x1="293.3" y1="283.4" x2="293.3" y2="290.2" stroke="#089981" stroke-width="0.6"/>
<rect x="292.8" y="285.3" width="1" height="1.1" fill="#089981"/>
<line x1="294.5" y1="285.1" x2="294.5" y2="294.4" stroke="#f23645" stroke-width="0.6"/>
<rect x="294" y="286" width="1" height="7.6" fill="#f23645"/>
<line x1="295.8" y1="293" x2="295.8" y2="310.6" stroke="#f23645" stroke-width="0.6"/>
<rect x="295.3" y="293.6" width="1" height="11.3" fill="#f23645"/>
<line x1="297" y1="285.2" x2="297" y2="307.2" stroke="#089981" stroke-width="0.6"/>
<rect x="296.5" y="290.4" width="1" height="14.3" fill="#089981"/>
<line x1="298.2" y1="289.8" x2="298.2" y2="296.3" stroke="#f23645" stroke-width="0.6"/>
<rect x="297.7" y="290.8" width="1" height="3.9" fill="#f23645"/>
<line x1="299.5" y1="287.1" x2="299.5" y2="296.2" stroke="#089981" stroke-width="0.6"/>
<rect x="299" y="291.1" width="1" height="4.2" fill="#089981"/>
<line x1="300.7" y1="289.7" x2="300.7" y2="292.7" stroke="#f23645" stroke-width="0.6"/>
<rect x="300.2" y="291.1" width="1" height="0.8" fill="#f23645"/>
<line x1="301.9" y1="288.5" x2="301.9" y2="296.9" stroke="#f23645" stroke-width="0.6"/>
<rect x="301.4" y="291.6" width="1" height="0.8" fill="#f23645"/>
<line x1="303.2" y1="288.7" x2="303.2" y2="296.4" stroke="#089981" stroke-width="0.6"/>
<rect x="302.7" y="289.3" width="1" height="3" fill="#089981"/>
<line x1="304.4" y1="277.7" x2="304.4" y2="290.7" stroke="#089981" stroke-width="0.6"/>
<rect x="303.9" y="280" width="1" height="8.6" fill="#089981"/>
<line x1="305.6" y1="272.3" x2="305.6" y2="281.5" stroke="#089981" stroke-width="0.6"/>
<rect x="305.1" y="274.6" width="1" height="5.4" fill="#089981"/>
<line x1="306.9" y1="273.1" x2="306.9" y2="278" stroke="#f23645" stroke-width="0.6"/>
<rect x="306.4" y="274.8" width="1" height="1.5" fill="#f23645"/>
<line x1="308.1" y1="275.3" x2="308.1" y2="289.5" stroke="#f23645" stroke-width="0.6"/>
<rect x="307.6" y="276.3" width="1" height="9.8" fill="#f23645"/>
<line x1="309.3" y1="281.5" x2="309.3" y2="287.5" stroke="#089981" stroke-width="0.6"/>
<rect x="308.8" y="283.2" width="1" height="3.4" fill="#089981"/>
<line x1="310.6" y1="280.5" x2="310.6" y2="283.3" stroke="#089981" stroke-width="0.6"/>
<rect x="310.1" y="282.1" width="1" height="0.8" fill="#089981"/>
<line x1="311.8" y1="280.1" x2="311.8" y2="286.4" stroke="#f23645" stroke-width="0.6"/>
<rect x="311.3" y="282" width="1" height="3.8" fill="#f23645"/>
<line x1="313" y1="282.4" x2="313" y2="288.1" stroke="#089981" stroke-width="0.6"/>
<rect x="312.5" y="285.9" width="1" height="0.8" fill="#089981"/>
<line x1="314.3" y1="283.3" x2="314.3" y2="288.5" stroke="#f23645" stroke-width="0.6"/>
<rect x="313.8" y="285.2" width="1" height="1.8" fill="#f23645"/>
<line x1="315.5" y1="276" x2="315.5" y2="294.7" stroke="#f23645" stroke-width="0.6"/>
<rect x="315" y="287.6" width="1" height="4" fill="#f23645"/>
<line x1="316.7" y1="289.1" x2="316.7" y2="300.6" stroke="#089981" stroke-width="0.6"/>
<rect x="316.2" y="290.1" width="1" height="2" fill="#089981"/>
<line x1="318" y1="281.1" x2="318" y2="294.3" stroke="#089981" stroke-width="0.6"/>
<rect x="317.5" y="282" width="1" height="8.8" fill="#089981"/>
<line x1="319.2" y1="282" x2="319.2" y2="295.1" stroke="#f23645" stroke-width="0.6"/>
<rect x="318.7" y="282.6" width="1" height="11.1" fill="#f23645"/>
<line x1="320.4" y1="293.2" x2="320.4" y2="298.4" stroke="#f23645" stroke-width="0.6"/>
<rect x="319.9" y="294.3" width="1" height="0.8" fill="#f23645"/>
<line x1="321.7" y1="291.4" x2="321.7" y2="299.5" stroke="#089981" stroke-width="0.6"/>
<rect x="321.2" y="293.3" width="1" height="0.8" fill="#089981"/>
<line x1="322.9" y1="292.1" x2="322.9" y2="298.1" stroke="#f23645" stroke-width="0.6"/>
<rect x="322.4" y="293.3" width="1" height="4.2" fill="#f23645"/>
<line x1="324.1" y1="296.2" x2="324.1" y2="306.7" stroke="#f23645" stroke-width="0.6"/>
<rect x="323.6" y="297" width="1" height="3.7" fill="#f23645"/>
<line x1="325.4" y1="291.5" x2="325.4" y2="300.9" stroke="#089981" stroke-width="0.6"/>
<rect x="324.9" y="295.1" width="1" height="5.1" fill="#089981"/>
<line x1="326.6" y1="289.5" x2="326.6" y2="296.5" stroke="#089981" stroke-width="0.6"/>
<rect x="326.1" y="292" width="1" height="3.1" fill="#089981"/>
<line x1="327.8" y1="287.3" x2="327.8" y2="304.8" stroke="#f23645" stroke-width="0.6"/>
<rect x="327.3" y="292.1" width="1" height="11.9" fill="#f23645"/>
<line x1="329.1" y1="295.1" x2="329.1" y2="306.3" stroke="#089981" stroke-width="0.6"/>
<rect x="328.6" y="297.6" width="1" height="7.2" fill="#089981"/>
<line x1="330.3" y1="296.2" x2="330.3" y2="304.3" stroke="#f23645" stroke-width="0.6"/>
<rect x="329.8" y="298.4" width="1" height="4.5" fill="#f23645"/>
<line x1="331.5" y1="298.1" x2="331.5" y2="304.2" stroke="#089981" stroke-width="0.6"/>
<rect x="331" y="299.7" width="1" height="3.6" fill="#089981"/>
<line x1="332.8" y1="299.2" x2="332.8" y2="305.7" stroke="#f23645" stroke-width="0.6"/>
<rect x="332.3" y="300.2" width="1" height="2.9" fill="#f23645"/>
<line x1="334" y1="300" x2="334" y2="306.6" stroke="#089981" stroke-width="0.6"/>
<rect x="333.5" y="302.2" width="1" height="1.7" fill="#089981"/>
<line x1="335.2" y1="300.7" x2="335.2" y2="306.1" stroke="#f23645" stroke-width="0.6"/>
<rect x="334.7" y="301.5" width="1" height="2.2" fill="#f23645"/>
<line x1="336.5" y1="301.3" x2="336.5" y2="308.6" stroke="#089981" stroke-width="0.6"/>
<rect x="336" y="303.3" width="1" height="0.8" fill="#089981"/>
<line x1="337.7" y1="302" x2="337.7" y2="304" stroke="#089981" stroke-width="0.6"/>
<rect x="337.2" y="302.5" width="1" height="1" fill="#089981"/>
<line x1="338.9" y1="299.5" x2="338.9" y2="303.7" stroke="#089981" stroke-width="0.6"/>
<rect x="338.4" y="300.2" width="1" height="2.1" fill="#089981"/>
<line x1="340.2" y1="295.7" x2="340.2" y2="302.8" stroke="#089981" stroke-width="0.6"/>
<rect x="339.7" y="296.7" width="1" height="3.7" fill="#089981"/>
<line x1="341.4" y1="295.8" x2="341.4" y2="305.8" stroke="#f23645" stroke-width="0.6"/>
<rect x="340.9" y="296.6" width="1" height="3.2" fill="#f23645"/>
<line x1="342.6" y1="290.9" x2="342.6" y2="303.8" stroke="#089981" stroke-width="0.6"/>
<rect x="342.1" y="293.4" width="1" height="5.7" fill="#089981"/>
<line x1="343.9" y1="292.4" x2="343.9" y2="295.5" stroke="#f23645" stroke-width="0.6"/>
<rect x="343.4" y="293.9" width="1" height="0.8" fill="#f23645"/>
<line x1="345.1" y1="291.9" x2="345.1" y2="297.1" stroke="#089981" stroke-width="0.6"/>
<rect x="344.6" y="293.3" width="1" height="1.2" fill="#089981"/>
<line x1="346.4" y1="277" x2="346.4" y2="296.3" stroke="#089981" stroke-width="0.6"/>
<rect x="345.9" y="283" width="1" height="10.2" fill="#089981"/>
<line x1="347.6" y1="276.9" x2="347.6" y2="283.8" stroke="#089981" stroke-width="0.6"/>
<rect x="347.1" y="278.9" width="1" height="3.4" fill="#089981"/>
<line x1="348.8" y1="274" x2="348.8" y2="288.5" stroke="#f23645" stroke-width="0.6"/>
<rect x="348.3" y="278.5" width="1" height="6.5" fill="#f23645"/>
<line x1="350.1" y1="283.4" x2="350.1" y2="286.7" stroke="#089981" stroke-width="0.6"/>
<rect x="349.6" y="284.2" width="1" height="1.5" fill="#089981"/>
<line x1="351.3" y1="281.3" x2="351.3" y2="286.9" stroke="#089981" stroke-width="0.6"/>
<rect x="350.8" y="283.3" width="1" height="1.1" fill="#089981"/>
<line x1="352.5" y1="281.7" x2="352.5" y2="287" stroke="#f23645" stroke-width="0.6"/>
<rect x="352" y="282.9" width="1" height="3.4" fill="#f23645"/>
<line x1="353.8" y1="280.5" x2="353.8" y2="290" stroke="#089981" stroke-width="0.6"/>
<rect x="353.3" y="284" width="1" height="2.9" fill="#089981"/>
<line x1="355" y1="282.7" x2="355" y2="298.2" stroke="#f23645" stroke-width="0.6"/>
<rect x="354.5" y="284.4" width="1" height="10.5" fill="#f23645"/>
<line x1="356.2" y1="287.9" x2="356.2" y2="295.6" stroke="#089981" stroke-width="0.6"/>
<rect x="355.7" y="288.9" width="1" height="6" fill="#089981"/>
<line x1="357.5" y1="285.4" x2="357.5" y2="294.9" stroke="#f23645" stroke-width="0.6"/>
<rect x="357" y="288.6" width="1" height="3.4" fill="#f23645"/>
<line x1="358.7" y1="289.6" x2="358.7" y2="297.4" stroke="#f23645" stroke-width="0.6"/>
<rect x="358.2" y="292.6" width="1" height="3.7" fill="#f23645"/>
<line x1="359.9" y1="292.8" x2="359.9" y2="297.9" stroke="#089981" stroke-width="0.6"/>
<rect x="359.4" y="294.7" width="1" height="2" fill="#089981"/>
<line x1="361.2" y1="287.7" x2="361.2" y2="302" stroke="#f23645" stroke-width="0.6"/>
<rect x="360.7" y="295" width="1" height="6.1" fill="#f23645"/>
<line x1="362.4" y1="299.6" x2="362.4" y2="308.6" stroke="#f23645" stroke-width="0.6"/>
<rect x="361.9" y="300.7" width="1" height="4.7" fill="#f23645"/>
<line x1="363.6" y1="300.9" x2="363.6" y2="307.4" stroke="#089981" stroke-width="0.6"/>
<rect x="363.1" y="304.1" width="1" height="2" fill="#089981"/>
<line x1="364.9" y1="298.4" x2="364.9" y2="309.4" stroke="#f23645" stroke-width="0.6"/>
<rect x="364.4" y="303.7" width="1" height="3.2" fill="#f23645"/>
<line x1="366.1" y1="298.8" x2="366.1" y2="315.4" stroke="#089981" stroke-width="0.6"/>
<rect x="365.6" y="301.5" width="1" height="5.7" fill="#089981"/>
<line x1="367.3" y1="291.4" x2="367.3" y2="303.5" stroke="#089981" stroke-width="0.6"/>
<rect x="366.8" y="295.8" width="1" height="6" fill="#089981"/>
<line x1="368.6" y1="294" x2="368.6" y2="305.4" stroke="#f23645" stroke-width="0.6"/>
<rect x="368.1" y="296.2" width="1" height="8" fill="#f23645"/>
<line x1="369.8" y1="298.1" x2="369.8" y2="304.3" stroke="#089981" stroke-width="0.6"/>
<rect x="369.3" y="303.4" width="1" height="0.8" fill="#089981"/>
<line x1="371" y1="301.9" x2="371" y2="311.9" stroke="#f23645" stroke-width="0.6"/>
<rect x="370.5" y="302.7" width="1" height="3.5" fill="#f23645"/>
<line x1="372.3" y1="297.3" x2="372.3" y2="308.2" stroke="#089981" stroke-width="0.6"/>
<rect x="371.8" y="297.9" width="1" height="7.5" fill="#089981"/>
<line x1="373.5" y1="295.3" x2="373.5" y2="302.6" stroke="#f23645" stroke-width="0.6"/>
<rect x="373" y="298.1" width="1" height="1.3" fill="#f23645"/>
<line x1="374.7" y1="295.3" x2="374.7" y2="306.6" stroke="#f23645" stroke-width="0.6"/>
<rect x="374.2" y="299.2" width="1" height="3.4" fill="#f23645"/>
<line x1="376" y1="300.5" x2="376" y2="307.8" stroke="#089981" stroke-width="0.6"/>
<rect x="375.5" y="301.1" width="1" height="2.1" fill="#089981"/>
<line x1="377.2" y1="299.5" x2="377.2" y2="309.2" stroke="#f23645" stroke-width="0.6"/>
<rect x="376.7" y="300.5" width="1" height="8" fill="#f23645"/>
<line x1="378.4" y1="292.1" x2="378.4" y2="311.6" stroke="#089981" stroke-width="0.6"/>
<rect x="377.9" y="296.4" width="1" height="11.3" fill="#089981"/>
<line x1="379.7" y1="295.4" x2="379.7" y2="297.9" stroke="#f23645" stroke-width="0.6"/>
<rect x="379.2" y="296.6" width="1" height="0.8" fill="#f23645"/>
<line x1="380.9" y1="293.2" x2="380.9" y2="298.3" stroke="#f23645" stroke-width="0.6"/>
<rect x="380.4" y="296.5" width="1" height="0.9" fill="#f23645"/>
<line x1="382.1" y1="295.5" x2="382.1" y2="422" stroke="#f23645" stroke-width="0.6"/>
<rect x="381.6" y="296.6" width="1" height="19" fill="#f23645"/>
<line x1="383.4" y1="314.5" x2="383.4" y2="328.1" stroke="#f23645" stroke-width="0.6"/>
<rect x="382.9" y="316" width="1" height="10.9" fill="#f23645"/>
<line x1="384.6" y1="325" x2="384.6" y2="329.7" stroke="#f23645" stroke-width="0.6"/>
<rect x="384.1" y="327.4" width="1" height="1.7" fill="#f23645"/>
<line x1="385.8" y1="323.7" x2="385.8" y2="332.5" stroke="#089981" stroke-width="0.6"/>
<rect x="385.3" y="325.3" width="1" height="3.7" fill="#089981"/>
<line x1="387.1" y1="323.9" x2="387.1" y2="329.9" stroke="#089981" stroke-width="0.6"/>
<rect x="386.6" y="324.9" width="1" height="0.8" fill="#089981"/>
<line x1="388.3" y1="320.3" x2="388.3" y2="336.2" stroke="#f23645" stroke-width="0.6"/>
<rect x="387.8" y="324.2" width="1" height="11.1" fill="#f23645"/>
<line x1="389.5" y1="325.3" x2="389.5" y2="336.2" stroke="#089981" stroke-width="0.6"/>
<rect x="389" y="333.5" width="1" height="2.2" fill="#089981"/>
<line x1="390.8" y1="329.6" x2="390.8" y2="337.1" stroke="#089981" stroke-width="0.6"/>
<rect x="390.3" y="331.4" width="1" height="2" fill="#089981"/>
<line x1="392" y1="327.1" x2="392" y2="335" stroke="#f23645" stroke-width="0.6"/>
<rect x="391.5" y="331.2" width="1" height="2.7" fill="#f23645"/>
<line x1="393.2" y1="333.4" x2="393.2" y2="337" stroke="#f23645" stroke-width="0.6"/>
<rect x="392.7" y="334.6" width="1" height="1.4" fill="#f23645"/>
<line x1="394.5" y1="327.4" x2="394.5" y2="336" stroke="#089981" stroke-width="0.6"/>
<rect x="394" y="329.9" width="1" height="5.4" fill="#089981"/>
<line x1="395.7" y1="323.7" x2="395.7" y2="334" stroke="#089981" stroke-width="0.6"/>
<rect x="395.2" y="326.6" width="1" height="3.8" fill="#089981"/>
<line x1="396.9" y1="324.9" x2="396.9" y2="333.6" stroke="#f23645" stroke-width="0.6"/>
<rect x="396.4" y="326.5" width="1" height="2.2" fill="#f23645"/>
<line x1="398.2" y1="323.1" x2="398.2" y2="329.4" stroke="#f23645" stroke-width="0.6"/>
<rect x="397.7" y="328" width="1" height="0.9" fill="#f23645"/>
<line x1="399.4" y1="327.6" x2="399.4" y2="334.2" stroke="#f23645" stroke-width="0.6"/>
<rect x="398.9" y="329.5" width="1" height="3.2" fill="#f23645"/>
<line x1="400.6" y1="332.3" x2="400.6" y2="335.9" stroke="#f23645" stroke-width="0.6"/>
<rect x="400.1" y="333.3" width="1" height="0.8" fill="#f23645"/>
<line x1="401.9" y1="320.3" x2="401.9" y2="335.9" stroke="#089981" stroke-width="0.6"/>
<rect x="401.4" y="322.9" width="1" height="11.6" fill="#089981"/>
<line x1="403.1" y1="321.8" x2="403.1" y2="331.3" stroke="#f23645" stroke-width="0.6"/>
<rect x="402.6" y="322.6" width="1" height="4.4" fill="#f23645"/>
<line x1="404.3" y1="324.9" x2="404.3" y2="332.5" stroke="#f23645" stroke-width="0.6"/>
<rect x="403.8" y="326.5" width="1" height="2.5" fill="#f23645"/>
<line x1="405.6" y1="328.4" x2="405.6" y2="332.7" stroke="#f23645" stroke-width="0.6"/>
<rect x="405.1" y="329.2" width="1" height="1.8" fill="#f23645"/>
<line x1="406.8" y1="329.3" x2="406.8" y2="344" stroke="#f23645" stroke-width="0.6"/>
<rect x="406.3" y="330.5" width="1" height="10.5" fill="#f23645"/>
<line x1="408.1" y1="337.3" x2="408.1" y2="342.4" stroke="#089981" stroke-width="0.6"/>
<rect x="407.6" y="338.1" width="1" height="3.5" fill="#089981"/>
<line x1="409.3" y1="337.3" x2="409.3" y2="341.9" stroke="#f23645" stroke-width="0.6"/>
<rect x="408.8" y="338.1" width="1" height="2.5" fill="#f23645"/>
<line x1="410.5" y1="332.2" x2="410.5" y2="345.4" stroke="#f23645" stroke-width="0.6"/>
<rect x="410" y="340.1" width="1" height="2.1" fill="#f23645"/>
<line x1="411.8" y1="340.2" x2="411.8" y2="360.2" stroke="#f23645" stroke-width="0.6"/>
<rect x="411.3" y="341.6" width="1" height="9.8" fill="#f23645"/>
<line x1="413" y1="348.8" x2="413" y2="359.7" stroke="#f23645" stroke-width="0.6"/>
<rect x="412.5" y="352" width="1" height="6.1" fill="#f23645"/>
<line x1="414.2" y1="351.3" x2="414.2" y2="358.9" stroke="#089981" stroke-width="0.6"/>
<rect x="413.7" y="352.3" width="1" height="5.1" fill="#089981"/>
<line x1="415.5" y1="350" x2="415.5" y2="357.7" stroke="#f23645" stroke-width="0.6"/>
<rect x="415" y="351.5" width="1" height="2.6" fill="#f23645"/>
<line x1="416.7" y1="345" x2="416.7" y2="355.1" stroke="#089981" stroke-width="0.6"/>
<rect x="416.2" y="346.7" width="1" height="7.6" fill="#089981"/>
<line x1="417.9" y1="343" x2="417.9" y2="350.1" stroke="#089981" stroke-width="0.6"/>
<rect x="417.4" y="344.5" width="1" height="2.3" fill="#089981"/>
<line x1="419.2" y1="341.4" x2="419.2" y2="354.7" stroke="#f23645" stroke-width="0.6"/>
<rect x="418.7" y="344.7" width="1" height="8.5" fill="#f23645"/>
<line x1="420.4" y1="344.8" x2="420.4" y2="357.4" stroke="#089981" stroke-width="0.6"/>
<rect x="419.9" y="347.9" width="1" height="4.8" fill="#089981"/>
<line x1="421.6" y1="345.7" x2="421.6" y2="354.3" stroke="#f23645" stroke-width="0.6"/>
<rect x="421.1" y="348.4" width="1" height="3.3" fill="#f23645"/>
<line x1="422.9" y1="344" x2="422.9" y2="354.2" stroke="#089981" stroke-width="0.6"/>
<rect x="422.4" y="345.3" width="1" height="6.4" fill="#089981"/>
<line x1="424.1" y1="342.7" x2="424.1" y2="358.1" stroke="#f23645" stroke-width="0.6"/>
<rect x="423.6" y="345.7" width="1" height="9.9" fill="#f23645"/>
<line x1="425.3" y1="353.6" x2="425.3" y2="359.4" stroke="#f23645" stroke-width="0.6"/>
<rect x="424.8" y="355.2" width="1" height="2.5" fill="#f23645"/>
<line x1="426.6" y1="349.6" x2="426.6" y2="358.9" stroke="#089981" stroke-width="0.6"/>
<rect x="426.1" y="355.4" width="1" height="2.6" fill="#089981"/>
<line x1="427.8" y1="352.2" x2="427.8" y2="360.1" stroke="#f23645" stroke-width="0.6"/>
<rect x="427.3" y="355.7" width="1" height="3" fill="#f23645"/>
<line x1="429" y1="350.7" x2="429" y2="358.8" stroke="#089981" stroke-width="0.6"/>
<rect x="428.5" y="352.7" width="1" height="5.2" fill="#089981"/>
<line x1="430.3" y1="347" x2="430.3" y2="368" stroke="#f23645" stroke-width="0.6"/>
<rect x="429.8" y="353.2" width="1" height="12.9" fill="#f23645"/>
<line x1="431.5" y1="363.1" x2="431.5" y2="373.4" stroke="#f23645" stroke-width="0.6"/>
<rect x="431" y="366.2" width="1" height="5.3" fill="#f23645"/>
<line x1="432.7" y1="367.6" x2="432.7" y2="375.6" stroke="#f23645" stroke-width="0.6"/>
<rect x="432.2" y="371.7" width="1" height="2" fill="#f23645"/>
<line x1="434" y1="363.8" x2="434" y2="388" stroke="#089981" stroke-width="0.6"/>
<rect x="433.5" y="366.7" width="1" height="6.5" fill="#089981"/>
<line x1="435.2" y1="366.3" x2="435.2" y2="387.8" stroke="#f23645" stroke-width="0.6"/>
<rect x="434.7" y="367.1" width="1" height="11.9" fill="#f23645"/>
<line x1="436.4" y1="370.2" x2="436.4" y2="379.2" stroke="#089981" stroke-width="0.6"/>
<rect x="435.9" y="371.7" width="1" height="6.9" fill="#089981"/>
<line x1="437.7" y1="370" x2="437.7" y2="377" stroke="#f23645" stroke-width="0.6"/>
<rect x="437.2" y="371.6" width="1" height="2.5" fill="#f23645"/>
<line x1="438.9" y1="369.8" x2="438.9" y2="379.8" stroke="#089981" stroke-width="0.6"/>
<rect x="438.4" y="373" width="1" height="0.8" fill="#089981"/>
<line x1="440.1" y1="372" x2="440.1" y2="383" stroke="#f23645" stroke-width="0.6"/>
<rect x="439.6" y="373" width="1" height="6.2" fill="#f23645"/>
<line x1="441.4" y1="372.2" x2="441.4" y2="382.4" stroke="#089981" stroke-width="0.6"/>
<rect x="440.9" y="375.7" width="1" height="3" fill="#089981"/>
<line x1="442.6" y1="374.1" x2="442.6" y2="381.1" stroke="#f23645" stroke-width="0.6"/>
<rect x="442.1" y="375.9" width="1" height="3.1" fill="#f23645"/>
<line x1="443.8" y1="375.6" x2="443.8" y2="382.6" stroke="#089981" stroke-width="0.6"/>
<rect x="443.3" y="378.1" width="1" height="0.8" fill="#089981"/>
<line x1="445.1" y1="376.9" x2="445.1" y2="387.3" stroke="#f23645" stroke-width="0.6"/>
<rect x="444.6" y="378.6" width="1" height="7.4" fill="#f23645"/>
<line x1="446.3" y1="370.7" x2="446.3" y2="390.9" stroke="#089981" stroke-width="0.6"/>
<rect x="445.8" y="372.1" width="1" height="14.6" fill="#089981"/>
<line x1="447.5" y1="370.1" x2="447.5" y2="372.8" stroke="#089981" stroke-width="0.6"/>
<rect x="447" y="371.6" width="1" height="0.8" fill="#089981"/>
<line x1="448.8" y1="365" x2="448.8" y2="371.9" stroke="#089981" stroke-width="0.6"/>
<rect x="448.3" y="368" width="1" height="2.7" fill="#089981"/>
<line x1="450" y1="366.4" x2="450" y2="373.5" stroke="#f23645" stroke-width="0.6"/>
<rect x="449.5" y="367.6" width="1" height="4" fill="#f23645"/>
<line x1="451.2" y1="364.6" x2="451.2" y2="377.7" stroke="#089981" stroke-width="0.6"/>
<rect x="450.7" y="366" width="1" height="5.9" fill="#089981"/>
<line x1="452.5" y1="365.9" x2="452.5" y2="378.2" stroke="#f23645" stroke-width="0.6"/>
<rect x="452" y="366.6" width="1" height="7.7" fill="#f23645"/>
<line x1="453.7" y1="369.6" x2="453.7" y2="380.3" stroke="#f23645" stroke-width="0.6"/>
<rect x="453.2" y="373.6" width="1" height="4.2" fill="#f23645"/>
<line x1="454.9" y1="367.6" x2="454.9" y2="383.6" stroke="#089981" stroke-width="0.6"/>
<rect x="454.4" y="368.1" width="1" height="8.9" fill="#089981"/>
<line x1="456.2" y1="366.6" x2="456.2" y2="371.3" stroke="#f23645" stroke-width="0.6"/>
<rect x="455.7" y="367.5" width="1" height="2.9" fill="#f23645"/>
<line x1="457.4" y1="368.4" x2="457.4" y2="371.6" stroke="#089981" stroke-width="0.6"/>
<rect x="456.9" y="369.8" width="1" height="1" fill="#089981"/>
<line x1="458.6" y1="364.3" x2="458.6" y2="381.4" stroke="#f23645" stroke-width="0.6"/>
<rect x="458.1" y="369.3" width="1" height="9.8" fill="#f23645"/>
<line x1="459.9" y1="367.4" x2="459.9" y2="384.5" stroke="#089981" stroke-width="0.6"/>
<rect x="459.4" y="370.1" width="1" height="9.4" fill="#089981"/>
<line x1="461.1" y1="366.8" x2="461.1" y2="379.1" stroke="#f23645" stroke-width="0.6"/>
<rect x="460.6" y="369.7" width="1" height="7.4" fill="#f23645"/>
<line x1="462.3" y1="369.1" x2="462.3" y2="382.2" stroke="#089981" stroke-width="0.6"/>
<rect x="461.8" y="370.7" width="1" height="6.7" fill="#089981"/>
<line x1="463.6" y1="369.5" x2="463.6" y2="379.9" stroke="#f23645" stroke-width="0.6"/>
<rect x="463.1" y="370.3" width="1" height="7.8" fill="#f23645"/>
<line x1="464.8" y1="375.6" x2="464.8" y2="383.4" stroke="#f23645" stroke-width="0.6"/>
<rect x="464.3" y="377.4" width="1" height="5.2" fill="#f23645"/>
<line x1="466" y1="376.9" x2="466" y2="383.1" stroke="#089981" stroke-width="0.6"/>
<rect x="465.5" y="381.4" width="1" height="1.2" fill="#089981"/>
<line x1="467.3" y1="380.2" x2="467.3" y2="395" stroke="#f23645" stroke-width="0.6"/>
<rect x="466.8" y="382" width="1" height="6" fill="#f23645"/>
<line x1="468.5" y1="381" x2="468.5" y2="394.7" stroke="#089981" stroke-width="0.6"/>
<rect x="468" y="382.6" width="1" height="5.2" fill="#089981"/>
<line x1="469.8" y1="376.1" x2="469.8" y2="384.4" stroke="#089981" stroke-width="0.6"/>
<rect x="469.2" y="378.6" width="1" height="3.3" fill="#089981"/>
<line x1="471" y1="373.1" x2="471" y2="391.9" stroke="#f23645" stroke-width="0.6"/>
<rect x="470.5" y="378.9" width="1" height="11.7" fill="#f23645"/>
<line x1="472.2" y1="384.6" x2="472.2" y2="393.2" stroke="#089981" stroke-width="0.6"/>
<rect x="471.7" y="386.5" width="1" height="4.9" fill="#089981"/>
<line x1="473.5" y1="384.2" x2="473.5" y2="388.2" stroke="#089981" stroke-width="0.6"/>
<rect x="473" y="386.7" width="1" height="0.8" fill="#089981"/>
<line x1="474.7" y1="383.6" x2="474.7" y2="389.1" stroke="#089981" stroke-width="0.6"/>
<rect x="474.2" y="385" width="1" height="2.3" fill="#089981"/>
<line x1="475.9" y1="376.6" x2="475.9" y2="386.2" stroke="#089981" stroke-width="0.6"/>
<rect x="475.4" y="378.3" width="1" height="6.3" fill="#089981"/>
<line x1="477.2" y1="374.3" x2="477.2" y2="384.5" stroke="#f23645" stroke-width="0.6"/>
<rect x="476.7" y="378.4" width="1" height="5" fill="#f23645"/>
<line x1="478.4" y1="382.2" x2="478.4" y2="387.7" stroke="#f23645" stroke-width="0.6"/>
<rect x="477.9" y="383.3" width="1" height="2.5" fill="#f23645"/>
<line x1="479.6" y1="377.4" x2="479.6" y2="390.2" stroke="#089981" stroke-width="0.6"/>
<rect x="479.1" y="380" width="1" height="6.6" fill="#089981"/>
<line x1="480.9" y1="377.4" x2="480.9" y2="384.1" stroke="#f23645" stroke-width="0.6"/>
<rect x="480.4" y="379.7" width="1" height="1.9" fill="#f23645"/>
<line x1="482.1" y1="381.5" x2="482.1" y2="389" stroke="#f23645" stroke-width="0.6"/>
<rect x="481.6" y="382" width="1" height="3.9" fill="#f23645"/>
<line x1="483.3" y1="383.6" x2="483.3" y2="385.7" stroke="#089981" stroke-width="0.6"/>
<rect x="482.8" y="384.8" width="1" height="0.8" fill="#089981"/>
<line x1="484.6" y1="361.7" x2="484.6" y2="386.7" stroke="#089981" stroke-width="0.6"/>
<rect x="484.1" y="367.2" width="1" height="17" fill="#089981"/>
<line x1="485.8" y1="346.4" x2="485.8" y2="370.3" stroke="#089981" stroke-width="0.6"/>
<rect x="485.3" y="348.8" width="1" height="19.1" fill="#089981"/>
<line x1="487" y1="332" x2="487" y2="351.3" stroke="#089981" stroke-width="0.6"/>
<rect x="486.5" y="334.9" width="1" height="14.1" fill="#089981"/>
<line x1="488.3" y1="328" x2="488.3" y2="338.5" stroke="#089981" stroke-width="0.6"/>
<rect x="487.8" y="332.2" width="1" height="2.9" fill="#089981"/>
<line x1="489.5" y1="330.7" x2="489.5" y2="333.3" stroke="#f23645" stroke-width="0.6"/>
<rect x="489" y="331.6" width="1" height="1.1" fill="#f23645"/>
<line x1="490.7" y1="331.6" x2="490.7" y2="342.8" stroke="#f23645" stroke-width="0.6"/>
<rect x="490.2" y="333" width="1" height="5.8" fill="#f23645"/>
<line x1="492" y1="329" x2="492" y2="340.4" stroke="#089981" stroke-width="0.6"/>
<rect x="491.5" y="331.2" width="1" height="8.1" fill="#089981"/>
<line x1="493.2" y1="329.2" x2="493.2" y2="341.7" stroke="#f23645" stroke-width="0.6"/>
<rect x="492.7" y="330.9" width="1" height="8.3" fill="#f23645"/>
<line x1="494.4" y1="339.2" x2="494.4" y2="343.5" stroke="#f23645" stroke-width="0.6"/>
<rect x="493.9" y="339.8" width="1" height="1.5" fill="#f23645"/>
<rect x="7" y="220" width="942" height="11" fill="#0d2e9c" fill-opacity="0.28"/>
<rect x="208" y="251" width="741" height="11" fill="#0d2e9c" fill-opacity="0.28"/>
<rect x="7" y="296.5" width="942" height="14" fill="#0d2e9c" fill-opacity="0.28"/>
<rect x="114" y="340" width="835" height="12" fill="#0d2e9c" fill-opacity="0.28"/>
<line x1="207.2" y1="251.8" x2="249.4" y2="295.6" stroke="#e4e4e4" stroke-width="1.4"/>
<line x1="202.1" y1="277.3" x2="246.2" y2="315.4" stroke="#e4e4e4" stroke-width="1.4"/>
<line x1="306.6" y1="274.7" x2="338.9" y2="296.3" stroke="#e4e4e4" stroke-width="1.4"/>
<line x1="304.7" y1="287.4" x2="336.8" y2="307.2" stroke="#e4e4e4" stroke-width="1.4"/>
<polyline fill="none" stroke="#4caf50" stroke-width="1.45" stroke-dasharray="1.4 2.4" points="496.4,349.5 600.4,250.6 638.7,310.4 736.1,221.4 837.3,260.6 932.4,57.2"/>
<polyline fill="none" stroke="#4caf50" stroke-width="1.45" stroke-dasharray="1.4 2.4" points="924.7,59.2 932.4,57.2 935.4,65.2"/>
<line x1="483.7" y1="54" x2="949" y2="54" stroke="#e8e8e8" stroke-width="1.8" stroke-dasharray="7.2 8.1"/>
<line x1="407.2" y1="196.5" x2="949" y2="196.5" stroke="#e8e8e8" stroke-width="1.8" stroke-dasharray="7.2 8.1"/>
<rect x="7" y="520.5" width="942" height="35" fill="rgba(126,87,194,0.12)"/>
<line x1="7" y1="520.5" x2="949" y2="520.5" stroke="#8a8d96" stroke-opacity="0.8" stroke-width="1" stroke-dasharray="3.8 3.84"/>
<line x1="7" y1="538.5" x2="949" y2="538.5" stroke="#8a8d96" stroke-opacity="0.4" stroke-width="1" stroke-dasharray="3.8 3.84"/>
<line x1="7" y1="555.5" x2="949" y2="555.5" stroke="#8a8d96" stroke-opacity="0.8" stroke-width="1" stroke-dasharray="3.8 3.84"/>
<path d="M190.5,520.5 L192,508.4 L196,508.4 L199,520.5 Z" fill="rgba(76,175,80,0.35)"/>
<polyline fill="none" stroke="#7e57c2" stroke-width="1" points="7,526.7 8.2,526.6 9.5,527.3 10.7,526.9 11.9,528.9 13.2,530 14.4,537.2 15.6,542.3 16.9,547.4 18.1,544.9 19.3,546.8 20.6,542.6 21.8,542.5 23,540.3 24.3,542.9 25.5,543.7 26.7,548.2 28,545 29.2,540.1 30.4,540.3 31.7,537.9 32.9,535 34.1,533.9 35.4,531.9 36.6,532 37.9,532.7 39.1,537.9 40.3,542.2 41.6,543.2 42.8,541.3 44,541.4 45.3,543 46.5,544.3 47.7,541.2 49,537.5 50.2,536.7 51.4,533.5 52.7,535.6 53.9,537.9 55.1,540 56.4,545.2 57.6,546.9 58.8,544.5 60.1,546.5 61.3,548.6 62.5,547.7 63.8,549.1 65,555 66.2,555 67.5,556 68.7,551.7 69.9,554.5 71.2,548.2 72.4,549.5 73.6,552.5 74.9,554.4 76.1,551.8 77.3,553.2 78.6,554.5 79.8,549.9 81,552.6 82.3,551.2 83.5,548.4 84.7,548.6 86,548.7 87.2,548 88.4,548.3 89.7,549.9 90.9,546.8 92.1,547.7 93.4,546.4 94.6,548.6 95.8,546.1 97.1,547.2 98.3,546.9 99.5,548.3 100.8,552.4 102,551.1 103.3,554.1 104.5,550.5 105.7,548.6 107,543.6 108.2,546.7 109.4,548 110.7,547.4 111.9,550.3 113.1,550.9 114.4,552.2 115.6,555.5 116.8,553.5 118.1,550.1 119.3,547.6 120.5,547.2 121.8,544.5 123,544.1 124.2,543.7 125.5,544.4 126.7,541 127.9,540.2 129.2,537.3 130.4,538.3 131.6,538.5 132.9,537.5 134.1,530.9 135.3,533.8 136.6,533.4 137.8,533.4 139,532.6 140.3,537.1 141.5,541.2 142.7,542 144,540.1 145.2,540 146.4,542.9 147.7,540 148.9,545.5 150.1,544.5 151.4,546.2 152.6,543.2 153.8,542.2 155.1,542.1 156.3,536.6 157.5,540.7 158.8,534.8 160,534.6 161.3,536.1 162.5,536.2 163.7,535.3 165,531.7 166.2,530 167.4,528 168.7,525.5 169.9,520.5 171.1,525.2 172.4,523.6 173.6,522.8 174.8,521 176.1,523.3 177.3,524.1 178.5,525.2 179.8,528.2 181,526.2 182.2,532 183.5,532.7 184.7,536.5 185.9,540.4 187.2,537 188.4,534.9 189.6,522.1 190.9,516.1 192.1,506.9 193.3,505.8 194.6,509.2 195.8,507.9 197,511.1 198.3,517 199.5,517.7 200.7,520.7 202,522.8 203.2,524.4 204.4,524.2 205.7,526.3 206.9,526.6 208.1,521 209.4,524.2 210.6,520.3 211.8,528 213.1,527.5 214.3,530.5 215.5,532.1 216.8,534.1 218,535.5 219.2,539.3 220.5,543.9 221.7,544.8 223,543.8 224.2,544.7 225.4,544.2 226.7,540.4 227.9,542 229.1,537.2 230.4,534.6 231.6,535.2 232.8,535.9 234.1,541 235.3,541.7 236.5,540.6 237.8,545.1 239,543.4 240.2,547.6 241.5,546.6 242.7,549 243.9,549.8 245.2,548.5 246.4,548.2 247.6,544.1 248.9,546.5 250.1,544.9 251.3,541.5 252.6,540.9 253.8,537.9 255,539.7 256.3,538.7 257.5,541.4 258.7,540.8 260,541.7 261.2,540.3 262.4,539.3 263.7,536.6 264.9,535.1 266.1,530.9 267.4,527.7 268.6,521.3 269.8,525.5 271.1,521.9 272.3,523.5 273.5,523.6 274.8,520.3 276,522.4 277.2,520.9 278.5,524.7 279.7,524.5 280.9,520.7 282.2,520.8 283.4,523.9 284.7,528.9 285.9,534 287.1,532.6 288.4,533.1 289.6,533.4 290.8,536.6 292.1,540.4 293.3,543.9 294.5,545.2 295.8,548.6 297,550.3 298.2,546.4 299.5,543.1 300.7,543.2 301.9,536 303.2,534.8 304.4,531.3 305.6,537.7 306.9,534.6 308.1,536.1 309.3,535.6 310.6,533.1 311.8,539.7 313,539 314.3,538.4 315.5,541.8 316.7,541.4 318,538.7 319.2,533.5 320.4,535.7 321.7,536.3 322.9,538.4 324.1,540.6 325.4,540.5 326.6,542.9 327.8,546.6 329.1,546.2 330.3,543.2 331.5,543.2 332.8,545.5 334,547.2 335.2,547.3 336.5,543.7 337.7,544.8 338.9,543.8 340.2,544.9 341.4,542.6 342.6,539.5 343.9,538.6 345.1,533.1 346.3,532.9 347.6,526.9 348.8,525.1 350.1,531 351.3,533.8 352.5,533 353.8,530.1 355,531.9 356.2,534.4 357.5,537 358.7,541.2 359.9,540 361.2,546 362.4,548.7 363.6,547 364.9,547.4 366.1,547.7 367.3,544.3 368.6,543.6 369.8,543.4 371,540.1 372.3,537.7 373.5,536.7 374.7,540.8 376,538.2 377.2,539.3 378.4,537.9 379.7,541.7 380.9,549.7 382.1,556.7 383.4,554.6 384.6,551.3 385.8,549.4 387.1,548 388.3,552.5 389.5,552.1 390.8,553 392,552.9 393.2,549.6 394.5,548.1 395.7,547.3 396.9,541.2 398.2,546.1 399.4,545.4 400.6,544.5 401.9,543.4 403.1,543.2 404.3,545.3 405.6,548.6 406.8,548.1 408,552.2 409.3,548.1 410.5,553.2 411.8,553.9 413,551 414.2,546 415.5,545.1 416.7,547.2 417.9,543.7 419.2,544.6 420.4,545.8 421.6,548.7 422.9,552.6 424.1,553.3 425.3,549.3 426.6,554.6 427.8,551.5 429,552.3 430.3,557 431.5,555.6 432.7,555 434,557.2 435.2,554.7 436.4,550.6 437.7,548 438.9,549.1 440.1,548.6 441.4,546.2 442.6,552.9 443.8,548.8 445.1,552.6 446.3,554.5 447.5,550.4 448.8,542.1 450,542.1 451.2,544.6 452.5,541.5 453.7,538.3 454.9,538.8 456.2,535.4 457.4,538.1 458.6,541.4 459.9,544.1 461.1,543.4 462.3,545.1 463.6,543.5 464.8,544.2 466,550 467.3,550.6 468.5,551 469.7,546.1 471,545.9 472.2,544.5 473.5,538.9 474.7,539.8 475.9,539.3 477.2,542.4 478.4,537.3 479.6,541.6 480.9,541.9 482.1,540.1 483.3,529.1 484.6,517.1 485.8,515.5 487,512.8 488.3,511 489.5,515.1 490.7,517.2 492,519.4 493.2,522.5"/>
<path fill="none" stroke="#e5c12f" stroke-width="1.1" d="M7.00,525.50 C9.17,526.72 16.17,529.95 20.00,532.80 C23.83,535.65 26.67,541.65 30.00,542.60 C33.33,543.55 36.67,539.03 40.00,538.50 C43.33,537.97 46.67,538.72 50.00,539.40 C53.33,540.08 56.67,541.25 60.00,542.60 C63.33,543.95 66.67,545.87 70.00,547.50 C73.33,549.13 76.67,551.87 80.00,552.40 C83.33,552.93 86.67,551.40 90.00,550.70 C93.33,550.00 96.67,548.37 100.00,548.20 C103.33,548.03 106.67,549.28 110.00,549.70 C113.33,550.12 116.67,551.27 120.00,550.70 C123.33,550.13 126.67,548.25 130.00,546.30 C133.33,544.35 136.67,540.22 140.00,539.00 C143.33,537.78 146.67,538.80 150.00,539.00 C153.33,539.20 156.67,540.62 160.00,540.20 C163.33,539.78 166.67,538.33 170.00,536.50 C173.33,534.67 177.00,530.22 180.00,529.20 C183.00,528.18 185.00,531.30 188.00,530.40 C191.00,529.50 195.00,525.83 198.00,523.80 C201.00,521.77 203.33,518.12 206.00,518.20 C208.67,518.28 211.33,521.87 214.00,524.30 C216.67,526.73 219.00,530.43 222.00,532.80 C225.00,535.17 228.67,537.07 232.00,538.50 C235.33,539.93 239.00,540.07 242.00,541.40 C245.00,542.73 247.45,545.90 250.00,546.50 C252.55,547.10 254.87,545.85 257.30,545.00 C259.73,544.15 262.15,543.43 264.60,541.40 C267.05,539.37 269.55,535.25 272.00,532.80 C274.45,530.35 277.47,528.20 279.30,526.70 C281.13,525.20 281.38,523.58 283.00,523.80 C284.62,524.02 286.97,526.08 289.00,528.00 C291.03,529.92 293.15,532.87 295.20,535.30 C297.25,537.73 299.07,541.50 301.30,542.60 C303.53,543.70 306.15,542.50 308.60,541.90 C311.05,541.30 313.97,539.57 316.00,539.00 C318.03,538.43 318.78,538.10 320.80,538.50 C322.82,538.90 325.67,540.60 328.10,541.40 C330.53,542.20 333.15,542.77 335.40,543.30 C337.65,543.83 339.55,545.12 341.60,544.60 C343.65,544.08 345.88,541.55 347.70,540.20 C349.52,538.85 350.88,537.60 352.50,536.50 C354.12,535.40 355.77,533.60 357.40,533.60 C359.03,533.60 360.27,535.00 362.30,536.50 C364.33,538.00 367.15,541.58 369.60,542.60 C372.05,543.62 374.55,541.98 377.00,542.60 C379.45,543.22 381.87,545.28 384.30,546.30 C386.73,547.32 389.37,547.88 391.60,548.70 C393.83,549.52 395.67,551.40 397.70,551.20 C399.73,551.00 401.57,548.12 403.80,547.50 C406.03,546.88 408.65,547.30 411.10,547.50 C413.55,547.70 416.05,548.08 418.50,548.70 C420.95,549.32 423.37,550.67 425.80,551.20 C428.23,551.73 431.07,551.38 433.10,551.90 C435.13,552.42 435.97,554.22 438.00,554.30 C440.03,554.38 442.87,553.53 445.30,552.40 C447.73,551.27 450.15,548.93 452.60,547.50 C455.05,546.07 457.97,544.62 460.00,543.80 C462.03,542.98 462.77,542.40 464.80,542.60 C466.83,542.80 469.95,544.30 472.20,545.00 C474.45,545.70 476.47,547.00 478.30,546.80 C480.13,546.60 481.78,545.32 483.20,543.80 C484.62,542.28 485.58,539.93 486.80,537.70 C488.02,535.47 489.28,532.32 490.50,530.40 C491.72,528.48 493.50,526.90 494.10,526.20"/>
<text x="955.6" y="50.1" font-size="9.3" fill="#a9acb5" text-anchor="start" font-weight="normal" textLength="49.2" lengthAdjust="spacingAndGlyphs" stroke="#a9acb5" stroke-width="0.08">0.00013000</text><text x="955.6" y="75.8" font-size="9.3" fill="#a9acb5" text-anchor="start" font-weight="normal" textLength="49.2" lengthAdjust="spacingAndGlyphs" stroke="#a9acb5" stroke-width="0.08">0.00010000</text><text x="955.6" y="97.5" font-size="9.3" fill="#a9acb5" text-anchor="start" font-weight="normal" textLength="49.2" lengthAdjust="spacingAndGlyphs" stroke="#a9acb5" stroke-width="0.08">0.00008000</text><text x="955.6" y="125.6" font-size="9.3" fill="#a9acb5" text-anchor="start" font-weight="normal" textLength="49.2" lengthAdjust="spacingAndGlyphs" stroke="#a9acb5" stroke-width="0.08">0.00006000</text><text x="955.6" y="153.7" font-size="9.3" fill="#a9acb5" text-anchor="start" font-weight="normal" textLength="49.2" lengthAdjust="spacingAndGlyphs" stroke="#a9acb5" stroke-width="0.08">0.00004500</text><text x="955.6" y="178.2" font-size="9.3" fill="#a9acb5" text-anchor="start" font-weight="normal" textLength="49.2" lengthAdjust="spacingAndGlyphs" stroke="#a9acb5" stroke-width="0.08">0.00003500</text><text x="955.6" y="203.5" font-size="9.3" fill="#a9acb5" text-anchor="start" font-weight="normal" textLength="49.2" lengthAdjust="spacingAndGlyphs" stroke="#a9acb5" stroke-width="0.08">0.00002700</text><text x="955.6" y="228.1" font-size="9.3" fill="#a9acb5" text-anchor="start" font-weight="normal" textLength="49.2" lengthAdjust="spacingAndGlyphs" stroke="#a9acb5" stroke-width="0.08">0.00002100</text><text x="955.6" y="254.6" font-size="9.3" fill="#a9acb5" text-anchor="start" font-weight="normal" textLength="49.2" lengthAdjust="spacingAndGlyphs" stroke="#a9acb5" stroke-width="0.08">0.00001600</text><text x="955.6" y="282.7" font-size="9.3" fill="#a9acb5" text-anchor="start" font-weight="normal" textLength="49.2" lengthAdjust="spacingAndGlyphs" stroke="#a9acb5" stroke-width="0.08">0.00001200</text><text x="955.6" y="305.5" font-size="9.3" fill="#a9acb5" text-anchor="start" font-weight="normal" textLength="49.2" lengthAdjust="spacingAndGlyphs" stroke="#a9acb5" stroke-width="0.08">0.00000950</text><text x="955.6" y="328.6" font-size="9.3" fill="#a9acb5" text-anchor="start" font-weight="normal" textLength="49.2" lengthAdjust="spacingAndGlyphs" stroke="#a9acb5" stroke-width="0.08">0.00000750</text><text x="955.6" y="350.3" font-size="9.3" fill="#a9acb5" text-anchor="start" font-weight="normal" textLength="49.2" lengthAdjust="spacingAndGlyphs" stroke="#a9acb5" stroke-width="0.08">0.00000600</text><text x="955.6" y="378.4" font-size="9.3" fill="#a9acb5" text-anchor="start" font-weight="normal" textLength="49.2" lengthAdjust="spacingAndGlyphs" stroke="#a9acb5" stroke-width="0.08">0.00000450</text><text x="955.6" y="403" font-size="9.3" fill="#a9acb5" text-anchor="start" font-weight="normal" textLength="49.2" lengthAdjust="spacingAndGlyphs" stroke="#a9acb5" stroke-width="0.08">0.00000350</text><text x="955.6" y="424.7" font-size="9.3" fill="#a9acb5" text-anchor="start" font-weight="normal" textLength="49.2" lengthAdjust="spacingAndGlyphs" stroke="#a9acb5" stroke-width="0.08">0.00000280</text><text x="955.6" y="448.3" font-size="9.3" fill="#a9acb5" text-anchor="start" font-weight="normal" textLength="49.2" lengthAdjust="spacingAndGlyphs" stroke="#a9acb5" stroke-width="0.08">0.00000220</text><text x="955.6" y="470.6" font-size="9.3" fill="#a9acb5" text-anchor="start" font-weight="normal" textLength="49.2" lengthAdjust="spacingAndGlyphs" stroke="#a9acb5" stroke-width="0.08">0.00000175</text><text x="955.6" y="492.4" font-size="9.3" fill="#a9acb5" text-anchor="start" font-weight="normal" textLength="49.2" lengthAdjust="spacingAndGlyphs" stroke="#a9acb5" stroke-width="0.08">0.00000140</text><text x="955.6" y="519.2" font-size="8.8" fill="#a9acb5" text-anchor="start" font-weight="normal" stroke="#a9acb5" stroke-width="0.22">75.00</text><text x="955.6" y="561.5" font-size="8.8" fill="#a9acb5" text-anchor="start" font-weight="normal" stroke="#a9acb5" stroke-width="0.22">25.00</text><text x="22.300000000000004" y="578.0" font-size="8.8" fill="#d6d9e0" text-anchor="start" font-weight="bold" textLength="21.8" lengthAdjust="spacingAndGlyphs">2025</text><text x="106.2" y="578.3" font-size="8.8" fill="#a9acb5" text-anchor="middle" font-weight="normal" stroke="#a9acb5" stroke-width="0.1">Mar</text><text x="144.2" y="578.3" font-size="8.8" fill="#a9acb5" text-anchor="middle" font-weight="normal" stroke="#a9acb5" stroke-width="0.1">Apr</text><text x="181.2" y="578.3" font-size="8.8" fill="#a9acb5" text-anchor="middle" font-weight="normal" stroke="#a9acb5" stroke-width="0.1">May</text><text x="219.2" y="578.3" font-size="8.8" fill="#a9acb5" text-anchor="middle" font-weight="normal" stroke="#a9acb5" stroke-width="0.1">Jun</text><text x="257.2" y="578.3" font-size="8.8" fill="#a9acb5" text-anchor="middle" font-weight="normal" stroke="#a9acb5" stroke-width="0.1">Jul</text><text x="295.2" y="578.3" font-size="8.8" fill="#a9acb5" text-anchor="middle" font-weight="normal" stroke="#a9acb5" stroke-width="0.1">Aug</text><text x="333.2" y="578.3" font-size="8.8" fill="#a9acb5" text-anchor="middle" font-weight="normal" stroke="#a9acb5" stroke-width="0.1">Sep</text><text x="371.2" y="578.3" font-size="8.8" fill="#a9acb5" text-anchor="middle" font-weight="normal" stroke="#a9acb5" stroke-width="0.1">Oct</text><text x="409.2" y="578.3" font-size="8.8" fill="#a9acb5" text-anchor="middle" font-weight="normal" stroke="#a9acb5" stroke-width="0.1">Nov</text><text x="446.2" y="578.3" font-size="8.8" fill="#a9acb5" text-anchor="middle" font-weight="normal" stroke="#a9acb5" stroke-width="0.1">Dec</text><text x="473.3" y="578.0" font-size="8.8" fill="#d6d9e0" text-anchor="start" font-weight="bold" textLength="21.8" lengthAdjust="spacingAndGlyphs">2026</text><text x="557.2" y="578.3" font-size="8.8" fill="#a9acb5" text-anchor="middle" font-weight="normal" stroke="#a9acb5" stroke-width="0.1">Mar</text><text x="595.2" y="578.3" font-size="8.8" fill="#a9acb5" text-anchor="middle" font-weight="normal" stroke="#a9acb5" stroke-width="0.1">Apr</text><text x="633.2" y="578.3" font-size="8.8" fill="#a9acb5" text-anchor="middle" font-weight="normal" stroke="#a9acb5" stroke-width="0.1">May</text><text x="671.2" y="578.3" font-size="8.8" fill="#a9acb5" text-anchor="middle" font-weight="normal" stroke="#a9acb5" stroke-width="0.1">Jun</text><text x="708.2" y="578.3" font-size="8.8" fill="#a9acb5" text-anchor="middle" font-weight="normal" stroke="#a9acb5" stroke-width="0.1">Jul</text><text x="747.2" y="578.3" font-size="8.8" fill="#a9acb5" text-anchor="middle" font-weight="normal" stroke="#a9acb5" stroke-width="0.1">Aug</text><text x="785.2" y="578.3" font-size="8.8" fill="#a9acb5" text-anchor="middle" font-weight="normal" stroke="#a9acb5" stroke-width="0.1">Sep</text><text x="822.2" y="578.3" font-size="8.8" fill="#a9acb5" text-anchor="middle" font-weight="normal" stroke="#a9acb5" stroke-width="0.1">Oct</text><text x="860.2" y="578.3" font-size="8.8" fill="#a9acb5" text-anchor="middle" font-weight="normal" stroke="#a9acb5" stroke-width="0.1">Nov</text><text x="897.2" y="578.3" font-size="8.8" fill="#a9acb5" text-anchor="middle" font-weight="normal" stroke="#a9acb5" stroke-width="0.1">Dec</text><text x="925.3000000000001" y="578.0" font-size="8.8" fill="#d6d9e0" text-anchor="start" font-weight="bold" textLength="21.8" lengthAdjust="spacingAndGlyphs">2027</text>
<rect x="949.6" y="335.4" width="59.1" height="11.8" rx="0.8" fill="#1e9e86"/><text x="955.6" y="344.8" font-size="9.3" fill="#ffffff" text-anchor="start" font-weight="normal" textLength="49.1" lengthAdjust="spacingAndGlyphs" stroke="#ffffff" stroke-width="0.05">0.00000638</text><rect x="949.6" y="364.2" width="59.1" height="11.7" rx="0.8" fill="#2196f3"/><text x="955.6" y="373.1" font-size="9.3" fill="#ffffff" text-anchor="start" font-weight="normal" textLength="49.1" lengthAdjust="spacingAndGlyphs" stroke="#ffffff" stroke-width="0.05">0.00000476</text><rect x="949.5" y="479.3" width="39.6" height="11.3" rx="0.5" fill="#22a08e"/><text x="956.2" y="488.4" font-size="9.3" fill="#ffffff" text-anchor="start" font-weight="normal" textLength="28.7" lengthAdjust="spacingAndGlyphs" stroke="#ffffff" stroke-width="0.05">10.61 T</text><rect x="949.5" y="519.1" width="32.4" height="11.4" rx="0.5" fill="#7e57c2"/><text x="955.6" y="528.3" font-size="9.3" fill="#ffffff" text-anchor="start" font-weight="normal" textLength="22.9" lengthAdjust="spacingAndGlyphs" stroke="#ffffff" stroke-width="0.05">64.54</text><rect x="949.5" y="530.5" width="32.4" height="11.9" rx="0.5" fill="#f5d13a"/><text x="955.6" y="540.2" font-size="9.3" fill="#131722" text-anchor="start" font-weight="normal" textLength="22.9" lengthAdjust="spacingAndGlyphs" stroke="#131722" stroke-width="0.1">62.37</text><rect x="951.5" y="21.5" width="63" height="18.8" rx="3" fill="#0e0e0e" stroke="#3a3d45" stroke-width="1"/><text x="958.2" y="34" font-size="8.3" fill="#e8e8e8" text-anchor="start" font-weight="bold" textLength="21.8" lengthAdjust="spacingAndGlyphs">USDT</text>
<g fill="#e6e6e6">
<path d="M7.9,599.6 H16.7 V609.8 H12.6 V603.7 H7.9 Z"/>
<circle cx="20.1" cy="601.8" r="2.05"/>
<path d="M24.4,599.6 H29.1 L25,609.9 H20.2 Z"/>
</g>
<text x="7.3" y="13.8" font-size="9.4" fill="#e3e3e3" text-anchor="start" font-weight="normal" textLength="256.5" lengthAdjust="spacingAndGlyphs" stroke="#e3e3e3" stroke-width="0.22">TimHakki created with TradingView.com, Jan 09, 2026 16:52 UTC</text><text x="12.9" y="32.5" font-size="8.8" fill="#d1d4dc" text-anchor="start" font-weight="normal" textLength="118.9" lengthAdjust="spacingAndGlyphs" stroke="#d1d4dc" stroke-width="0.22">PEPE / TetherUS <tspan font-family="DejaVu Sans">·</tspan> 1D <tspan font-family="DejaVu Sans">·</tspan> Binance</text><text x="137.1" y="32.5" font-size="8.8" fill="#d1d4dc" text-anchor="start" font-weight="normal" stroke="#d1d4dc" stroke-width="0.22">O</text><text x="143.6" y="32.5" font-size="8.8" fill="#14a085" text-anchor="start" font-weight="normal" textLength="48.7" lengthAdjust="spacingAndGlyphs" stroke="#14a085" stroke-width="0.22">0.00000608</text><text x="197.9" y="32.5" font-size="8.8" fill="#d1d4dc" text-anchor="start" font-weight="normal" stroke="#d1d4dc" stroke-width="0.22">H</text><text x="203.7" y="32.5" font-size="8.8" fill="#14a085" text-anchor="start" font-weight="normal" textLength="48.3" lengthAdjust="spacingAndGlyphs" stroke="#14a085" stroke-width="0.22">0.00000643</text><text x="257.8" y="32.5" font-size="8.8" fill="#d1d4dc" text-anchor="start" font-weight="normal" stroke="#d1d4dc" stroke-width="0.22">L</text><text x="262.3" y="32.5" font-size="8.8" fill="#14a085" text-anchor="start" font-weight="normal" textLength="48.2" lengthAdjust="spacingAndGlyphs" stroke="#14a085" stroke-width="0.22">0.00000594</text><text x="316.6" y="32.5" font-size="8.8" fill="#d1d4dc" text-anchor="start" font-weight="normal" stroke="#d1d4dc" stroke-width="0.22">C</text><text x="322.4" y="32.5" font-size="8.8" fill="#14a085" text-anchor="start" font-weight="normal" textLength="48" lengthAdjust="spacingAndGlyphs" stroke="#14a085" stroke-width="0.22">0.00000638</text><text x="376.1" y="32.5" font-size="8.8" fill="#14a085" text-anchor="start" font-weight="normal" textLength="92.8" lengthAdjust="spacingAndGlyphs" stroke="#14a085" stroke-width="0.22">+0.00000030 (+4.93%)</text><text x="12.9" y="44.3" font-size="8.8" fill="#d1d4dc" text-anchor="start" font-weight="normal" textLength="38.9" lengthAdjust="spacingAndGlyphs" stroke="#d1d4dc" stroke-width="0.22">Vol <tspan font-family="DejaVu Sans">·</tspan> PEPE</text><text x="57.6" y="44.3" font-size="8.8" fill="#14a085" text-anchor="start" font-weight="normal" textLength="25.8" lengthAdjust="spacingAndGlyphs" stroke="#14a085" stroke-width="0.22">10.61 T</text><text x="12.9" y="56" font-size="8.8" fill="#d1d4dc" text-anchor="start" font-weight="normal" textLength="56.6" lengthAdjust="spacingAndGlyphs" stroke="#d1d4dc" stroke-width="0.22">MA (30, close)</text><text x="74.8" y="56" font-size="8.8" fill="#2196f3" text-anchor="start" font-weight="normal" textLength="47.9" lengthAdjust="spacingAndGlyphs" stroke="#2196f3" stroke-width="0.22">0.00000476</text><text x="395.5" y="57.2" font-size="10.4" fill="#e0e0e0" text-anchor="start" font-weight="normal" textLength="75.5" lengthAdjust="spacingAndGlyphs" stroke="#e0e0e0" stroke-width="0.22">$0.00012 Target</text><text x="314.4" y="199" font-size="10.4" fill="#e0e0e0" text-anchor="start" font-weight="normal" textLength="77.5" lengthAdjust="spacingAndGlyphs" stroke="#e0e0e0" stroke-width="0.22">$$0.000028 ATH</text><text x="12.7" y="515.2" font-size="8.8" fill="#d1d4dc" text-anchor="start" font-weight="normal" textLength="55.7" lengthAdjust="spacingAndGlyphs" stroke="#d1d4dc" stroke-width="0.22">RSI (14, close)</text><text x="73.6" y="515.2" font-size="8.8" fill="#8a66d9" text-anchor="start" font-weight="normal" textLength="22.3" lengthAdjust="spacingAndGlyphs" stroke="#8a66d9" stroke-width="0.22">64.54</text><text x="101.2" y="515.2" font-size="8.8" fill="#efc935" text-anchor="start" font-weight="normal" textLength="22.2" lengthAdjust="spacingAndGlyphs" stroke="#efc935" stroke-width="0.22">62.37</text><text x="34.3" y="609.8" font-size="14.2" fill="#e6e6e6" text-anchor="start" font-weight="bold" textLength="83.4" lengthAdjust="spacingAndGlyphs">TradingView</text>
</svg>
</body></html>
